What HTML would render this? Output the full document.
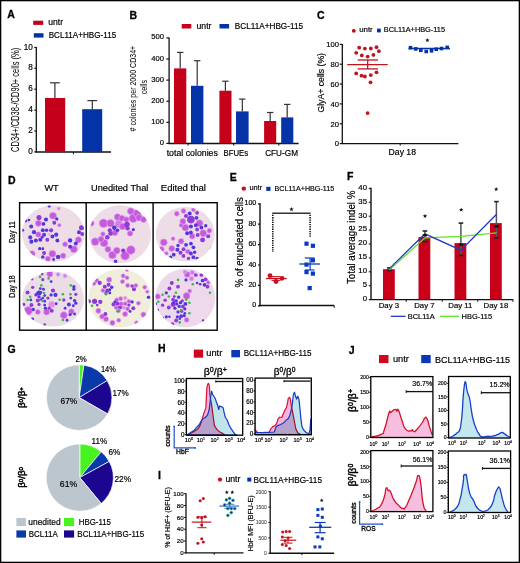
<!DOCTYPE html>
<html><head><meta charset="utf-8"><style>
html,body{margin:0;padding:0;background:#fff;overflow:hidden;}
svg{display:block;}
text{font-family:"Liberation Sans", sans-serif;}
</style></head><body>
<svg width="520" height="563" viewBox="0 0 520 563">
<rect x="0" y="0" width="520" height="563" fill="#fff"/>
<text x="7.20" y="17.80" font-size="10.5" stroke="#000" stroke-width="0.3" font-weight="bold" >A</text>
<rect x="33.20" y="20.70" width="10.00" height="4.20" fill="#c5001a" />
<text x="48.30" y="25.00" font-size="8.2" stroke="#000" stroke-width="0.18" textLength="14.8" lengthAdjust="spacingAndGlyphs" >untr</text>
<rect x="33.80" y="33.20" width="9.70" height="4.40" fill="#0433a8" />
<text x="48.70" y="38.10" font-size="8.2" stroke="#000" stroke-width="0.18" textLength="67.5" lengthAdjust="spacingAndGlyphs" >BCL11A+HBG-115</text>
<line x1="36.30" y1="47.00" x2="36.30" y2="152.60" stroke="#111" stroke-width="1.3" />
<line x1="34.30" y1="151.90" x2="36.30" y2="151.90" stroke="#111" stroke-width="1.1700000000000002" />
<text x="32.90" y="154.00" font-size="8.2" stroke="#000" stroke-width="0.18" text-anchor="end" >0</text>
<line x1="34.30" y1="131.00" x2="36.30" y2="131.00" stroke="#111" stroke-width="1.1700000000000002" />
<text x="32.90" y="133.10" font-size="8.2" stroke="#000" stroke-width="0.18" text-anchor="end" >2</text>
<line x1="34.30" y1="110.10" x2="36.30" y2="110.10" stroke="#111" stroke-width="1.1700000000000002" />
<text x="32.90" y="112.20" font-size="8.2" stroke="#000" stroke-width="0.18" text-anchor="end" >4</text>
<line x1="34.30" y1="89.20" x2="36.30" y2="89.20" stroke="#111" stroke-width="1.1700000000000002" />
<text x="32.90" y="91.30" font-size="8.2" stroke="#000" stroke-width="0.18" text-anchor="end" >6</text>
<line x1="34.30" y1="68.30" x2="36.30" y2="68.30" stroke="#111" stroke-width="1.1700000000000002" />
<text x="32.90" y="70.40" font-size="8.2" stroke="#000" stroke-width="0.18" text-anchor="end" >8</text>
<line x1="34.30" y1="47.40" x2="36.30" y2="47.40" stroke="#111" stroke-width="1.1700000000000002" />
<text x="32.90" y="49.50" font-size="8.2" stroke="#000" stroke-width="0.18" text-anchor="end" >10</text>
<line x1="35.70" y1="152.10" x2="111.00" y2="152.10" stroke="#111" stroke-width="1.5" />
<line x1="73.40" y1="152.10" x2="73.40" y2="154.20" stroke="#111" stroke-width="1" />
<rect x="45.00" y="98.00" width="20.20" height="54.10" fill="#c5001a" />
<rect x="82.20" y="109.20" width="20.00" height="42.90" fill="#0433a8" />
<line x1="54.90" y1="82.80" x2="54.90" y2="98.00" stroke="#333" stroke-width="1.2" />
<line x1="50.00" y1="82.80" x2="59.80" y2="82.80" stroke="#333" stroke-width="1.2" />
<line x1="92.30" y1="100.60" x2="92.30" y2="109.20" stroke="#333" stroke-width="1.2" />
<line x1="87.40" y1="100.60" x2="97.20" y2="100.60" stroke="#333" stroke-width="1.2" />
<text transform="translate(19.40,99.90) rotate(-90)" font-size="10.6" stroke="#000" stroke-width="0.02" text-anchor="middle" textLength="104.2" lengthAdjust="spacingAndGlyphs" >CD34+/CD38-/CD90+ cells (%)</text>
<text x="129.60" y="18.80" font-size="10.5" stroke="#000" stroke-width="0.3" font-weight="bold" >B</text>
<rect x="181.70" y="24.00" width="9.60" height="4.50" fill="#c5001a" />
<text x="196.50" y="28.50" font-size="8.2" stroke="#000" stroke-width="0.18" textLength="15" lengthAdjust="spacingAndGlyphs" >untr</text>
<rect x="219.50" y="24.00" width="9.60" height="4.50" fill="#0433a8" />
<text x="234.80" y="28.50" font-size="8.2" stroke="#000" stroke-width="0.18" textLength="68.2" lengthAdjust="spacingAndGlyphs" >BCL11A+HBG-115</text>
<line x1="169.10" y1="37.50" x2="169.10" y2="143.80" stroke="#111" stroke-width="1.3" />
<line x1="166.30" y1="143.40" x2="169.10" y2="143.40" stroke="#111" stroke-width="1.1700000000000002" />
<text x="164.00" y="144.90" font-size="7.6" stroke="#000" stroke-width="0.18" text-anchor="end" >0</text>
<line x1="166.30" y1="122.30" x2="169.10" y2="122.30" stroke="#111" stroke-width="1.1700000000000002" />
<text x="164.00" y="123.80" font-size="7.6" stroke="#000" stroke-width="0.18" text-anchor="end" >100</text>
<line x1="166.30" y1="101.20" x2="169.10" y2="101.20" stroke="#111" stroke-width="1.1700000000000002" />
<text x="164.00" y="102.70" font-size="7.6" stroke="#000" stroke-width="0.18" text-anchor="end" >200</text>
<line x1="166.30" y1="80.10" x2="169.10" y2="80.10" stroke="#111" stroke-width="1.1700000000000002" />
<text x="164.00" y="81.60" font-size="7.6" stroke="#000" stroke-width="0.18" text-anchor="end" >300</text>
<line x1="166.30" y1="59.00" x2="169.10" y2="59.00" stroke="#111" stroke-width="1.1700000000000002" />
<text x="164.00" y="60.50" font-size="7.6" stroke="#000" stroke-width="0.18" text-anchor="end" >400</text>
<line x1="166.30" y1="37.90" x2="169.10" y2="37.90" stroke="#111" stroke-width="1.1700000000000002" />
<text x="164.00" y="39.40" font-size="7.6" stroke="#000" stroke-width="0.18" text-anchor="end" >500</text>
<line x1="168.50" y1="143.40" x2="298.60" y2="143.40" stroke="#111" stroke-width="1.5" />
<line x1="188.00" y1="143.40" x2="188.00" y2="145.60" stroke="#111" stroke-width="1" />
<line x1="233.70" y1="143.40" x2="233.70" y2="145.60" stroke="#111" stroke-width="1" />
<line x1="278.80" y1="143.40" x2="278.80" y2="145.60" stroke="#111" stroke-width="1" />
<rect x="174.00" y="68.40" width="12.30" height="75.00" fill="#c5001a" />
<line x1="180.20" y1="52.40" x2="180.20" y2="68.40" stroke="#333" stroke-width="1.2" />
<line x1="177.00" y1="52.40" x2="183.40" y2="52.40" stroke="#333" stroke-width="1.2" />
<rect x="191.00" y="85.80" width="12.40" height="57.60" fill="#0433a8" />
<line x1="197.20" y1="60.70" x2="197.20" y2="85.80" stroke="#333" stroke-width="1.2" />
<line x1="194.00" y1="60.70" x2="200.40" y2="60.70" stroke="#333" stroke-width="1.2" />
<rect x="219.40" y="90.70" width="12.10" height="52.70" fill="#c5001a" />
<line x1="225.40" y1="81.20" x2="225.40" y2="90.70" stroke="#333" stroke-width="1.2" />
<line x1="222.20" y1="81.20" x2="228.60" y2="81.20" stroke="#333" stroke-width="1.2" />
<rect x="236.00" y="111.40" width="12.60" height="32.00" fill="#0433a8" />
<line x1="242.30" y1="99.10" x2="242.30" y2="111.40" stroke="#333" stroke-width="1.2" />
<line x1="239.10" y1="99.10" x2="245.50" y2="99.10" stroke="#333" stroke-width="1.2" />
<rect x="264.10" y="121.00" width="12.10" height="22.40" fill="#c5001a" />
<line x1="270.20" y1="112.50" x2="270.20" y2="121.00" stroke="#333" stroke-width="1.2" />
<line x1="267.00" y1="112.50" x2="273.40" y2="112.50" stroke="#333" stroke-width="1.2" />
<rect x="281.20" y="117.40" width="12.10" height="26.00" fill="#0433a8" />
<line x1="287.20" y1="104.40" x2="287.20" y2="117.40" stroke="#333" stroke-width="1.2" />
<line x1="284.00" y1="104.40" x2="290.40" y2="104.40" stroke="#333" stroke-width="1.2" />
<text x="192.30" y="156.20" font-size="8.2" stroke="#000" stroke-width="0.18" text-anchor="middle" textLength="51.2" lengthAdjust="spacingAndGlyphs" >total colonies</text>
<text x="235.90" y="156.20" font-size="8.2" stroke="#000" stroke-width="0.18" text-anchor="middle" textLength="24.6" lengthAdjust="spacingAndGlyphs" >BFUEs</text>
<text x="281.60" y="156.20" font-size="8.2" stroke="#000" stroke-width="0.18" text-anchor="middle" textLength="32.8" lengthAdjust="spacingAndGlyphs" >CFU-GM</text>
<text transform="translate(135.70,88.60) rotate(-90)" font-size="8.8" stroke="#000" stroke-width="0.02" text-anchor="middle" textLength="85.6" lengthAdjust="spacingAndGlyphs" ># colonies per 2000 CD34+</text>
<text transform="translate(146.60,87.10) rotate(-90)" font-size="9.0" stroke="#000" stroke-width="0.02" text-anchor="middle" textLength="14.2" lengthAdjust="spacingAndGlyphs" >cells</text>
<text x="317.00" y="18.80" font-size="10.5" stroke="#000" stroke-width="0.3" font-weight="bold" >C</text>
<circle cx="353.80" cy="30.80" r="1.90" fill="#c5001a" />
<text x="359.20" y="32.40" font-size="7.2" stroke="#000" stroke-width="0.18" textLength="13.5" lengthAdjust="spacingAndGlyphs" >untr</text>
<rect x="377.00" y="28.60" width="3.80" height="3.80" fill="#0433a8" />
<text x="383.80" y="32.40" font-size="7.2" stroke="#000" stroke-width="0.18" textLength="61.2" lengthAdjust="spacingAndGlyphs" >BCL11A+HBG-115</text>
<line x1="342.30" y1="44.00" x2="342.30" y2="143.90" stroke="#111" stroke-width="1.3" />
<line x1="339.70" y1="143.60" x2="342.30" y2="143.60" stroke="#111" stroke-width="1.1700000000000002" />
<text x="339.00" y="146.40" font-size="7.6" stroke="#000" stroke-width="0.18" text-anchor="end" >0</text>
<line x1="339.70" y1="123.75" x2="342.30" y2="123.75" stroke="#111" stroke-width="1.1700000000000002" />
<text x="339.00" y="126.55" font-size="7.6" stroke="#000" stroke-width="0.18" text-anchor="end" >20</text>
<line x1="339.70" y1="103.90" x2="342.30" y2="103.90" stroke="#111" stroke-width="1.1700000000000002" />
<text x="339.00" y="106.70" font-size="7.6" stroke="#000" stroke-width="0.18" text-anchor="end" >40</text>
<line x1="339.70" y1="84.05" x2="342.30" y2="84.05" stroke="#111" stroke-width="1.1700000000000002" />
<text x="339.00" y="86.85" font-size="7.6" stroke="#000" stroke-width="0.18" text-anchor="end" >60</text>
<line x1="339.70" y1="64.20" x2="342.30" y2="64.20" stroke="#111" stroke-width="1.1700000000000002" />
<text x="339.00" y="67.00" font-size="7.6" stroke="#000" stroke-width="0.18" text-anchor="end" >80</text>
<line x1="339.70" y1="44.35" x2="342.30" y2="44.35" stroke="#111" stroke-width="1.1700000000000002" />
<text x="339.00" y="47.15" font-size="7.6" stroke="#000" stroke-width="0.18" text-anchor="end" >100</text>
<line x1="341.70" y1="143.60" x2="458.40" y2="143.60" stroke="#111" stroke-width="1.4" />
<line x1="400.20" y1="143.60" x2="400.20" y2="145.60" stroke="#111" stroke-width="1" />
<text x="402.30" y="154.90" font-size="8.2" stroke="#000" stroke-width="0.18" text-anchor="middle" textLength="27.4" lengthAdjust="spacingAndGlyphs" >Day 18</text>
<text transform="translate(324.40,82.80) rotate(-90)" font-size="9.4" stroke="#000" stroke-width="0.18" text-anchor="middle" textLength="59.6" lengthAdjust="spacingAndGlyphs" >GlyA+ cells (%)</text>
<circle cx="359.20" cy="47.70" r="1.90" fill="#c0141e" />
<circle cx="364.90" cy="48.60" r="1.90" fill="#c0141e" />
<circle cx="370.80" cy="48.50" r="1.90" fill="#c0141e" />
<circle cx="376.50" cy="47.20" r="1.90" fill="#c0141e" />
<circle cx="356.20" cy="52.80" r="1.90" fill="#c0141e" />
<circle cx="361.80" cy="55.40" r="1.90" fill="#c0141e" />
<circle cx="367.70" cy="56.60" r="1.90" fill="#c0141e" />
<circle cx="373.40" cy="54.90" r="1.90" fill="#c0141e" />
<circle cx="378.90" cy="51.20" r="1.90" fill="#c0141e" />
<circle cx="356.20" cy="73.40" r="1.90" fill="#c0141e" />
<circle cx="361.50" cy="75.70" r="1.90" fill="#c0141e" />
<circle cx="364.90" cy="76.50" r="1.90" fill="#c0141e" />
<circle cx="370.80" cy="75.10" r="1.90" fill="#c0141e" />
<circle cx="376.50" cy="72.30" r="1.90" fill="#c0141e" />
<circle cx="370.50" cy="82.30" r="1.90" fill="#c0141e" />
<circle cx="367.60" cy="113.10" r="1.90" fill="#c0141e" />
<line x1="347.20" y1="64.60" x2="387.70" y2="64.60" stroke="#c0141e" stroke-width="1.3" />
<line x1="357.70" y1="60.00" x2="378.00" y2="60.00" stroke="#c0141e" stroke-width="1.3" />
<line x1="357.70" y1="68.90" x2="378.00" y2="68.90" stroke="#c0141e" stroke-width="1.3" />
<line x1="367.70" y1="60.00" x2="367.70" y2="68.90" stroke="#c0141e" stroke-width="1.3" />
<line x1="408.50" y1="48.50" x2="450.00" y2="48.50" stroke="#0433a8" stroke-width="1.3" />
<rect x="408.70" y="45.90" width="3.60" height="3.60" fill="#0433a8" />
<rect x="414.00" y="47.10" width="3.60" height="3.60" fill="#0433a8" />
<rect x="419.00" y="48.50" width="3.60" height="3.60" fill="#0433a8" />
<rect x="424.40" y="49.70" width="3.60" height="3.60" fill="#0433a8" />
<rect x="429.70" y="49.00" width="3.60" height="3.60" fill="#0433a8" />
<rect x="434.40" y="47.40" width="3.60" height="3.60" fill="#0433a8" />
<rect x="439.70" y="46.70" width="3.60" height="3.60" fill="#0433a8" />
<rect x="445.40" y="45.60" width="3.60" height="3.60" fill="#0433a8" />
<polygon points="427.40,37.90 427.99,39.39 429.59,39.49 428.35,40.51 428.75,42.06 427.40,41.20 426.05,42.06 426.45,40.51 425.21,39.49 426.81,39.39" fill="#111"/>
<text x="8.00" y="183.60" font-size="10.5" stroke="#000" stroke-width="0.3" font-weight="bold" >D</text>
<text x="51.60" y="190.80" font-size="8.6" stroke="#000" stroke-width="0.18" text-anchor="middle" textLength="14.4" lengthAdjust="spacingAndGlyphs" >WT</text>
<text x="119.70" y="191.00" font-size="8.6" stroke="#000" stroke-width="0.18" text-anchor="middle" textLength="57.4" lengthAdjust="spacingAndGlyphs" >Unedited Thal</text>
<text x="183.40" y="191.00" font-size="8.6" stroke="#000" stroke-width="0.18" text-anchor="middle" textLength="45.2" lengthAdjust="spacingAndGlyphs" >Edited thal</text>
<text transform="translate(14.60,232.20) rotate(-90)" font-size="8.6" stroke="#000" stroke-width="0.18" text-anchor="middle" textLength="21.8" lengthAdjust="spacingAndGlyphs" >Day 11</text>
<text transform="translate(14.60,286.50) rotate(-90)" font-size="8.6" stroke="#000" stroke-width="0.18" text-anchor="middle" textLength="22.4" lengthAdjust="spacingAndGlyphs" >Day 18</text>
<defs><filter id="cb" x="-50%" y="-50%" width="200%" height="200%"><feGaussianBlur stdDeviation="0.4"/></filter><filter id="cb2" x="-20%" y="-20%" width="140%" height="140%"><feGaussianBlur stdDeviation="0.6"/></filter></defs>
<clipPath id="cc0"><ellipse cx="53.3" cy="233.6" rx="31.3" ry="28.3"/></clipPath>
<ellipse cx="53.3" cy="233.6" rx="31.3" ry="28.3" fill="#eedde7" filter="url(#cb2)"/>
<g clip-path="url(#cc0)"><g filter="url(#cb)"><circle cx="53.0" cy="215.7" r="3.52" fill="#c55ade" stroke="#dea4ee" stroke-width="0.7"/><circle cx="73.9" cy="249.3" r="3.52" fill="#c55ade" stroke="#dea4ee" stroke-width="0.7"/><circle cx="52.4" cy="253.8" r="3.52" fill="#c55ade" stroke="#dea4ee" stroke-width="0.7"/><circle cx="38.4" cy="223.3" r="3.08" fill="#c55ade" stroke="#dea4ee" stroke-width="0.7"/><circle cx="78.4" cy="239.8" r="3.08" fill="#c55ade" stroke="#dea4ee" stroke-width="0.7"/><circle cx="32.1" cy="253.8" r="3.08" fill="#c55ade" stroke="#dea4ee" stroke-width="0.7"/><circle cx="38.4" cy="234.5" r="2.75" fill="#c55ade" stroke="#dea4ee" stroke-width="0.7"/><circle cx="47.9" cy="258.8" r="2.75" fill="#c55ade" stroke="#dea4ee" stroke-width="0.7"/><circle cx="63.1" cy="255.7" r="2.75" fill="#c55ade" stroke="#dea4ee" stroke-width="0.7"/><circle cx="39.0" cy="217.6" r="2.53" fill="#8e3ada"/><circle cx="81.5" cy="227.7" r="2.53" fill="#8e3ada"/><circle cx="65.1" cy="244.2" r="2.53" fill="#c55ade" stroke="#dea4ee" stroke-width="0.7"/><circle cx="70.1" cy="240.4" r="2.20" fill="#5636de"/><circle cx="58.1" cy="256.9" r="2.20" fill="#5636de"/><circle cx="46.0" cy="219.5" r="2.09" fill="#5636de"/><circle cx="34.0" cy="232.2" r="2.09" fill="#5636de"/><circle cx="51.1" cy="230.3" r="2.09" fill="#8e3ada"/><circle cx="56.2" cy="234.7" r="2.09" fill="#5636de"/><circle cx="30.2" cy="237.3" r="2.09" fill="#5636de"/><circle cx="31.4" cy="241.7" r="2.09" fill="#5636de"/><circle cx="31.2" cy="226.5" r="1.98" fill="#5636de"/><circle cx="42.8" cy="230.3" r="1.98" fill="#5636de"/><circle cx="44.1" cy="234.7" r="1.98" fill="#5636de"/><circle cx="52.4" cy="236.6" r="1.98" fill="#5636de"/><circle cx="35.9" cy="240.4" r="1.98" fill="#5636de"/><circle cx="40.3" cy="239.8" r="1.98" fill="#5636de"/><circle cx="47.3" cy="239.8" r="1.98" fill="#8e3ada"/><circle cx="57.4" cy="240.4" r="1.98" fill="#5636de"/><circle cx="54.3" cy="222.7" r="1.98" fill="#8e3ada"/><circle cx="79.0" cy="232.2" r="1.98" fill="#5636de"/><circle cx="82.2" cy="234.1" r="1.98" fill="#8e3ada"/><circle cx="75.8" cy="243.6" r="1.98" fill="#5636de"/><circle cx="70.1" cy="246.8" r="1.98" fill="#5636de"/><circle cx="44.1" cy="253.1" r="1.98" fill="#8e3ada"/><circle cx="43.5" cy="223.9" r="1.87" fill="#5636de"/><circle cx="46.6" cy="230.3" r="1.76" fill="#5636de"/><circle cx="59.3" cy="225.2" r="1.76" fill="#c55ade" stroke="#dea4ee" stroke-width="0.7"/><circle cx="42.8" cy="256.9" r="1.76" fill="#5636de"/><circle cx="25.7" cy="220.8" r="1.65" fill="#5636de"/><circle cx="56.8" cy="218.9" r="1.65" fill="#5636de"/><circle cx="58.7" cy="208.7" r="1.65" fill="#d080e4" stroke="#e8bcf0" stroke-width="0.7"/><circle cx="39.7" cy="248.7" r="1.65" fill="#5636de"/><circle cx="28.9" cy="220.1" r="1.43" fill="#5636de"/><circle cx="22.8" cy="230.3" r="1.43" fill="#5636de"/><circle cx="42.2" cy="237.3" r="1.43" fill="#5636de"/><circle cx="49.2" cy="206.2" r="1.43" fill="#5636de"/><circle cx="42.8" cy="248.7" r="1.43" fill="#5636de"/><circle cx="53.6" cy="259.5" r="1.43" fill="#5636de"/><circle cx="49.2" cy="234.7" r="1.10" fill="#e090e2" stroke="#f0c0f0" stroke-width="0.7"/></g></g>
<clipPath id="cc1"><ellipse cx="120" cy="234.2" rx="31" ry="29"/></clipPath>
<ellipse cx="120" cy="234.2" rx="31" ry="29" fill="#eedde7" filter="url(#cb2)"/>
<g clip-path="url(#cc1)"><g filter="url(#cb)"><circle cx="103.5" cy="223.3" r="4.32" fill="#c55ade" stroke="#dea4ee" stroke-width="0.7"/><circle cx="133.3" cy="218.2" r="4.32" fill="#c55ade" stroke="#dea4ee" stroke-width="0.7"/><circle cx="125.1" cy="255.7" r="4.32" fill="#c55ade" stroke="#dea4ee" stroke-width="0.7"/><circle cx="130.8" cy="250.0" r="4.32" fill="#c55ade" stroke="#dea4ee" stroke-width="0.7"/><circle cx="110.5" cy="223.3" r="3.84" fill="#c55ade" stroke="#dea4ee" stroke-width="0.7"/><circle cx="118.7" cy="223.9" r="3.84" fill="#d080e4" stroke="#e8bcf0" stroke-width="0.7"/><circle cx="137.1" cy="213.2" r="3.84" fill="#c55ade" stroke="#dea4ee" stroke-width="0.7"/><circle cx="95.2" cy="241.7" r="3.84" fill="#c55ade" stroke="#dea4ee" stroke-width="0.7"/><circle cx="104.1" cy="243.0" r="3.84" fill="#c55ade" stroke="#dea4ee" stroke-width="0.7"/><circle cx="112.4" cy="255.0" r="3.84" fill="#c55ade" stroke="#dea4ee" stroke-width="0.7"/><circle cx="117.5" cy="217.0" r="3.36" fill="#c55ade" stroke="#dea4ee" stroke-width="0.7"/><circle cx="122.5" cy="226.5" r="3.36" fill="#c55ade" stroke="#dea4ee" stroke-width="0.7"/><circle cx="130.8" cy="211.2" r="3.36" fill="#c55ade" stroke="#dea4ee" stroke-width="0.7"/><circle cx="139.0" cy="217.6" r="3.36" fill="#c55ade" stroke="#dea4ee" stroke-width="0.7"/><circle cx="116.8" cy="250.6" r="3.36" fill="#c55ade" stroke="#dea4ee" stroke-width="0.7"/><circle cx="121.9" cy="218.2" r="3.00" fill="#c55ade" stroke="#dea4ee" stroke-width="0.7"/><circle cx="114.9" cy="232.8" r="3.00" fill="#c55ade" stroke="#dea4ee" stroke-width="0.7"/><circle cx="143.5" cy="219.5" r="3.00" fill="#c55ade" stroke="#dea4ee" stroke-width="0.7"/><circle cx="101.0" cy="239.2" r="3.00" fill="#c55ade" stroke="#dea4ee" stroke-width="0.7"/><circle cx="107.9" cy="249.3" r="3.00" fill="#c55ade" stroke="#dea4ee" stroke-width="0.7"/><circle cx="91.4" cy="223.3" r="2.76" fill="#c55ade" stroke="#dea4ee" stroke-width="0.7"/><circle cx="126.3" cy="219.5" r="2.76" fill="#c55ade" stroke="#dea4ee" stroke-width="0.7"/><circle cx="127.0" cy="224.6" r="2.76" fill="#8e3ada"/><circle cx="130.1" cy="233.5" r="2.76" fill="#c55ade" stroke="#dea4ee" stroke-width="0.7"/><circle cx="114.3" cy="227.7" r="2.28" fill="#5636de"/><circle cx="110.5" cy="233.5" r="2.28" fill="#8e3ada"/><circle cx="102.9" cy="234.1" r="2.28" fill="#c55ade" stroke="#dea4ee" stroke-width="0.7"/><circle cx="107.3" cy="237.3" r="2.28" fill="#8e3ada"/><circle cx="109.8" cy="230.3" r="2.16" fill="#8e3ada"/><circle cx="127.6" cy="228.4" r="2.16" fill="#8e3ada"/><circle cx="123.2" cy="250.6" r="2.16" fill="#8e3ada"/><circle cx="117.5" cy="230.3" r="1.80" fill="#5636de"/><circle cx="115.6" cy="261.4" r="1.80" fill="#5636de"/><circle cx="133.3" cy="229.6" r="1.56" fill="#5636de"/></g></g>
<clipPath id="cc2"><ellipse cx="185.2" cy="234.3" rx="29.4" ry="27.3"/></clipPath>
<ellipse cx="185.2" cy="234.3" rx="29.4" ry="27.3" fill="#eddde6" filter="url(#cb2)"/>
<g clip-path="url(#cc2)"><g filter="url(#cb)"><circle cx="190.9" cy="219.6" r="3.81" fill="#8e3ada"/><circle cx="199.5" cy="223.3" r="3.47" fill="#c55ade" stroke="#dea4ee" stroke-width="0.7"/><circle cx="185.4" cy="227.6" r="3.47" fill="#c55ade" stroke="#dea4ee" stroke-width="0.7"/><circle cx="203.2" cy="233.2" r="3.47" fill="#c55ade" stroke="#dea4ee" stroke-width="0.7"/><circle cx="163.8" cy="242.4" r="3.47" fill="#c55ade" stroke="#dea4ee" stroke-width="0.7"/><circle cx="182.9" cy="221.5" r="3.02" fill="#c55ade" stroke="#dea4ee" stroke-width="0.7"/><circle cx="171.8" cy="248.5" r="3.02" fill="#c55ade" stroke="#dea4ee" stroke-width="0.7"/><circle cx="192.2" cy="236.2" r="2.80" fill="#c55ade" stroke="#dea4ee" stroke-width="0.7"/><circle cx="181.1" cy="241.2" r="2.80" fill="#c55ade" stroke="#dea4ee" stroke-width="0.7"/><circle cx="161.4" cy="249.2" r="2.80" fill="#c55ade" stroke="#dea4ee" stroke-width="0.7"/><circle cx="176.8" cy="213.8" r="2.46" fill="#c55ade" stroke="#dea4ee" stroke-width="0.7"/><circle cx="183.5" cy="211.0" r="2.46" fill="#c55ade" stroke="#dea4ee" stroke-width="0.7"/><circle cx="209.4" cy="230.7" r="2.46" fill="#c55ade" stroke="#dea4ee" stroke-width="0.7"/><circle cx="202.6" cy="239.9" r="2.46" fill="#8e3ada"/><circle cx="187.8" cy="251.6" r="2.46" fill="#c55ade" stroke="#dea4ee" stroke-width="0.7"/><circle cx="189.7" cy="213.5" r="2.02" fill="#5636de"/><circle cx="186.0" cy="215.9" r="2.02" fill="#8e3ada"/><circle cx="193.4" cy="209.8" r="2.02" fill="#c55ade" stroke="#dea4ee" stroke-width="0.7"/><circle cx="190.9" cy="226.4" r="2.02" fill="#5636de"/><circle cx="181.1" cy="225.2" r="2.02" fill="#c55ade" stroke="#dea4ee" stroke-width="0.7"/><circle cx="208.2" cy="236.2" r="2.02" fill="#8e3ada"/><circle cx="187.2" cy="233.2" r="2.02" fill="#5636de"/><circle cx="177.4" cy="249.8" r="2.02" fill="#5636de"/><circle cx="180.5" cy="252.8" r="2.02" fill="#8e3ada"/><circle cx="197.1" cy="212.8" r="1.90" fill="#8e3ada"/><circle cx="196.5" cy="217.8" r="1.90" fill="#5636de"/><circle cx="195.8" cy="225.2" r="1.90" fill="#5636de"/><circle cx="201.4" cy="227.6" r="1.90" fill="#5636de"/><circle cx="197.1" cy="229.5" r="1.90" fill="#8e3ada"/><circle cx="197.7" cy="235.0" r="1.90" fill="#8e3ada"/><circle cx="190.9" cy="232.5" r="1.90" fill="#5636de"/><circle cx="173.1" cy="238.7" r="1.90" fill="#c55ade" stroke="#dea4ee" stroke-width="0.7"/><circle cx="186.0" cy="244.8" r="1.90" fill="#5636de"/><circle cx="190.9" cy="243.6" r="1.90" fill="#5636de"/><circle cx="193.4" cy="247.3" r="1.90" fill="#5636de"/><circle cx="183.5" cy="249.2" r="1.90" fill="#8e3ada"/><circle cx="190.9" cy="253.5" r="1.90" fill="#5636de"/><circle cx="173.7" cy="254.7" r="1.90" fill="#5636de"/><circle cx="183.5" cy="255.9" r="1.90" fill="#8e3ada"/><circle cx="193.4" cy="257.2" r="1.90" fill="#5636de"/><circle cx="166.3" cy="253.5" r="1.90" fill="#c55ade" stroke="#dea4ee" stroke-width="0.7"/><circle cx="205.7" cy="225.8" r="1.68" fill="#5636de"/><circle cx="194.6" cy="252.2" r="1.68" fill="#5636de"/><circle cx="170.6" cy="257.2" r="1.68" fill="#5636de"/><circle cx="197.1" cy="258.4" r="1.68" fill="#5636de"/><circle cx="188.5" cy="258.4" r="1.68" fill="#8e3ada"/><circle cx="178.0" cy="245.5" r="1.68" fill="#5636de"/><circle cx="211.2" cy="248.5" r="1.34" fill="#c55ade" stroke="#dea4ee" stroke-width="0.7"/></g></g>
<clipPath id="cc3"><ellipse cx="53" cy="299" rx="31" ry="27.6"/></clipPath>
<ellipse cx="53" cy="299" rx="31" ry="27.6" fill="#ebdde6" filter="url(#cb2)"/>
<g clip-path="url(#cc3)"><g filter="url(#cb)"><circle cx="28.2" cy="310.8" r="4.18" fill="#c55ade" stroke="#dea4ee" stroke-width="0.7"/><circle cx="51.7" cy="304.4" r="3.52" fill="#e090e2" stroke="#f0c0f0" stroke-width="0.7"/><circle cx="63.8" cy="315.2" r="3.52" fill="#c55ade" stroke="#dea4ee" stroke-width="0.7"/><circle cx="49.8" cy="274.0" r="3.08" fill="#c55ade" stroke="#dea4ee" stroke-width="0.7"/><circle cx="46.6" cy="312.0" r="3.08" fill="#c55ade" stroke="#dea4ee" stroke-width="0.7"/><circle cx="71.4" cy="311.4" r="2.75" fill="#c55ade" stroke="#dea4ee" stroke-width="0.7"/><circle cx="39.0" cy="293.0" r="2.53" fill="#5636de"/><circle cx="37.8" cy="312.0" r="2.53" fill="#c55ade" stroke="#dea4ee" stroke-width="0.7"/><circle cx="65.0" cy="275.9" r="2.09" fill="#d080e4" stroke="#e8bcf0" stroke-width="0.7"/><circle cx="53.0" cy="290.5" r="2.09" fill="#8e3ada"/><circle cx="55.5" cy="294.9" r="2.09" fill="#5636de"/><circle cx="58.1" cy="274.6" r="1.98" fill="#d080e4" stroke="#e8bcf0" stroke-width="0.7"/><circle cx="27.6" cy="292.4" r="1.98" fill="#8e3ada"/><circle cx="37.8" cy="300.6" r="1.98" fill="#8e3ada"/><circle cx="31.4" cy="305.1" r="1.98" fill="#8e3ada"/><circle cx="51.7" cy="310.8" r="1.98" fill="#8e3ada"/><circle cx="68.9" cy="304.4" r="1.98" fill="#5636de"/><circle cx="42.8" cy="279.7" r="1.65" fill="#8e3ada"/><circle cx="32.7" cy="287.3" r="1.65" fill="#8e3ada"/><circle cx="35.9" cy="294.9" r="1.65" fill="#8e3ada"/><circle cx="39.0" cy="296.8" r="1.65" fill="#5636de"/><circle cx="51.1" cy="294.9" r="1.65" fill="#5636de"/><circle cx="47.9" cy="298.1" r="1.65" fill="#8e3ada"/><circle cx="23.8" cy="304.4" r="1.65" fill="#8e3ada"/><circle cx="39.0" cy="304.4" r="1.65" fill="#8e3ada"/><circle cx="45.4" cy="308.2" r="1.65" fill="#5636de"/><circle cx="49.2" cy="308.2" r="1.65" fill="#8e3ada"/><circle cx="33.3" cy="309.5" r="1.65" fill="#5636de"/><circle cx="75.8" cy="303.2" r="1.65" fill="#5636de"/><circle cx="74.6" cy="300.6" r="1.65" fill="#5636de"/><circle cx="75.8" cy="294.3" r="1.65" fill="#8e3ada"/><circle cx="63.8" cy="300.0" r="1.65" fill="#8e3ada"/><circle cx="73.9" cy="286.7" r="1.65" fill="#5636de"/><circle cx="73.9" cy="289.2" r="1.65" fill="#5636de"/><circle cx="70.1" cy="314.6" r="1.65" fill="#5636de"/><circle cx="42.2" cy="274.0" r="1.43" fill="#8e3ada"/><circle cx="32.1" cy="279.1" r="1.43" fill="#8e3ada"/><circle cx="51.1" cy="281.6" r="1.43" fill="#5636de"/><circle cx="40.3" cy="288.6" r="1.43" fill="#5636de"/><circle cx="43.5" cy="289.2" r="1.43" fill="#5636de"/><circle cx="44.7" cy="295.6" r="1.43" fill="#5636de"/><circle cx="42.8" cy="298.1" r="1.43" fill="#5636de"/><circle cx="30.8" cy="300.0" r="1.43" fill="#5636de"/><circle cx="44.7" cy="305.1" r="1.43" fill="#5636de"/><circle cx="56.2" cy="303.8" r="1.43" fill="#5636de"/><circle cx="65.1" cy="308.2" r="1.43" fill="#5636de"/><circle cx="73.3" cy="305.7" r="1.43" fill="#5636de"/><circle cx="70.8" cy="298.1" r="1.43" fill="#5636de"/><circle cx="74.6" cy="314.0" r="1.43" fill="#5636de"/><circle cx="32.7" cy="319.0" r="1.43" fill="#5636de"/><circle cx="67.0" cy="320.3" r="1.43" fill="#5636de"/><circle cx="44.7" cy="324.7" r="1.43" fill="#8e3ada"/><circle cx="36.5" cy="294.3" r="1.43" fill="#5636de"/><circle cx="40.9" cy="292.4" r="1.43" fill="#5636de"/><circle cx="40.9" cy="299.4" r="1.43" fill="#8e3ada"/><circle cx="44.7" cy="301.3" r="1.43" fill="#5636de"/><circle cx="40.1" cy="276.9" r="1.3" fill="#2fbf3a"/><circle cx="48.6" cy="278.4" r="1.3" fill="#2fbf3a"/><circle cx="41.3" cy="285.4" r="1.3" fill="#2fbf3a"/><circle cx="44.1" cy="293.0" r="1.3" fill="#2fbf3a"/><circle cx="30.2" cy="296.8" r="1.3" fill="#2fbf3a"/><circle cx="27.6" cy="300.0" r="1.3" fill="#2fbf3a"/><circle cx="42.6" cy="301.0" r="1.3" fill="#2fbf3a"/><circle cx="59.6" cy="299.7" r="1.3" fill="#2fbf3a"/><circle cx="62.9" cy="294.3" r="1.3" fill="#2fbf3a"/><circle cx="70.5" cy="294.3" r="1.3" fill="#2fbf3a"/><circle cx="70.8" cy="285.4" r="1.3" fill="#2fbf3a"/><circle cx="62.9" cy="320.0" r="1.3" fill="#2fbf3a"/></g></g>
<clipPath id="cc4"><ellipse cx="119.9" cy="298.2" rx="31.5" ry="29.3"/></clipPath>
<ellipse cx="119.9" cy="298.2" rx="31.5" ry="29.3" fill="#f0eedb" filter="url(#cb2)"/>
<g clip-path="url(#cc4)"><g filter="url(#cb)"><circle cx="109.2" cy="279.7" r="2.58" fill="#c55ade" stroke="#dea4ee" stroke-width="0.7"/><circle cx="94.6" cy="301.3" r="2.58" fill="#8e3ada"/><circle cx="98.4" cy="310.8" r="2.58" fill="#c55ade" stroke="#dea4ee" stroke-width="0.7"/><circle cx="102.2" cy="316.5" r="2.58" fill="#c55ade" stroke="#dea4ee" stroke-width="0.7"/><circle cx="106.0" cy="319.0" r="2.58" fill="#c55ade" stroke="#dea4ee" stroke-width="0.7"/><circle cx="112.4" cy="322.8" r="2.58" fill="#c55ade" stroke="#dea4ee" stroke-width="0.7"/><circle cx="125.1" cy="314.0" r="2.58" fill="#c55ade" stroke="#dea4ee" stroke-width="0.7"/><circle cx="143.5" cy="314.6" r="2.58" fill="#c55ade" stroke="#dea4ee" stroke-width="0.7"/><circle cx="96.5" cy="280.3" r="2.13" fill="#c55ade" stroke="#dea4ee" stroke-width="0.7"/><circle cx="99.7" cy="282.9" r="2.13" fill="#8e3ada"/><circle cx="123.2" cy="275.9" r="2.13" fill="#c55ade" stroke="#dea4ee" stroke-width="0.7"/><circle cx="122.5" cy="281.6" r="2.13" fill="#c55ade" stroke="#dea4ee" stroke-width="0.7"/><circle cx="127.6" cy="285.4" r="2.13" fill="#c55ade" stroke="#dea4ee" stroke-width="0.7"/><circle cx="88.9" cy="301.3" r="2.13" fill="#8e3ada"/><circle cx="100.3" cy="301.9" r="2.13" fill="#8e3ada"/><circle cx="113.6" cy="304.4" r="2.13" fill="#8e3ada"/><circle cx="116.8" cy="300.0" r="2.13" fill="#c55ade" stroke="#dea4ee" stroke-width="0.7"/><circle cx="120.6" cy="298.7" r="2.13" fill="#c55ade" stroke="#dea4ee" stroke-width="0.7"/><circle cx="125.1" cy="298.1" r="2.13" fill="#e090e2" stroke="#f0c0f0" stroke-width="0.7"/><circle cx="121.3" cy="303.8" r="2.13" fill="#c55ade" stroke="#dea4ee" stroke-width="0.7"/><circle cx="125.1" cy="303.8" r="2.13" fill="#c55ade" stroke="#dea4ee" stroke-width="0.7"/><circle cx="123.8" cy="307.6" r="2.13" fill="#e090e2" stroke="#f0c0f0" stroke-width="0.7"/><circle cx="127.6" cy="308.9" r="2.13" fill="#c55ade" stroke="#dea4ee" stroke-width="0.7"/><circle cx="94.0" cy="283.5" r="2.02" fill="#c55ade" stroke="#dea4ee" stroke-width="0.7"/><circle cx="108.6" cy="284.8" r="2.02" fill="#8e3ada"/><circle cx="104.8" cy="286.7" r="2.02" fill="#8e3ada"/><circle cx="102.9" cy="290.5" r="2.02" fill="#c55ade" stroke="#dea4ee" stroke-width="0.7"/><circle cx="107.3" cy="290.5" r="2.02" fill="#8e3ada"/><circle cx="127.0" cy="277.8" r="2.02" fill="#c55ade" stroke="#dea4ee" stroke-width="0.7"/><circle cx="135.9" cy="285.4" r="2.02" fill="#c55ade" stroke="#dea4ee" stroke-width="0.7"/><circle cx="134.0" cy="289.2" r="2.02" fill="#8e3ada"/><circle cx="144.7" cy="287.3" r="2.02" fill="#c55ade" stroke="#dea4ee" stroke-width="0.7"/><circle cx="105.4" cy="314.0" r="2.02" fill="#8e3ada"/><circle cx="118.7" cy="320.3" r="2.02" fill="#c55ade" stroke="#dea4ee" stroke-width="0.7"/><circle cx="128.9" cy="301.3" r="2.02" fill="#c55ade" stroke="#dea4ee" stroke-width="0.7"/><circle cx="117.5" cy="303.8" r="2.02" fill="#8e3ada"/><circle cx="116.2" cy="307.6" r="2.02" fill="#c55ade" stroke="#dea4ee" stroke-width="0.7"/><circle cx="120.0" cy="307.6" r="2.02" fill="#8e3ada"/><circle cx="133.3" cy="308.2" r="2.02" fill="#8e3ada"/><circle cx="118.7" cy="310.8" r="2.02" fill="#c55ade" stroke="#dea4ee" stroke-width="0.7"/><circle cx="138.4" cy="303.2" r="2.02" fill="#c55ade" stroke="#dea4ee" stroke-width="0.7"/><circle cx="136.5" cy="322.8" r="2.02" fill="#c55ade" stroke="#dea4ee" stroke-width="0.7"/><circle cx="111.7" cy="287.3" r="1.68" fill="#5636de"/><circle cx="106.0" cy="293.0" r="1.68" fill="#8e3ada"/><circle cx="132.1" cy="286.0" r="1.68" fill="#8e3ada"/><circle cx="147.3" cy="291.7" r="1.68" fill="#c55ade" stroke="#dea4ee" stroke-width="0.7"/><circle cx="148.5" cy="297.2" r="1.68" fill="#5636de"/><circle cx="132.1" cy="301.9" r="1.68" fill="#5636de"/><circle cx="128.9" cy="305.1" r="1.68" fill="#8e3ada"/><circle cx="109.8" cy="289.8" r="1.46" fill="#5636de"/><circle cx="109.8" cy="293.0" r="1.46" fill="#5636de"/><circle cx="127.0" cy="270.2" r="1.46" fill="#c55ade" stroke="#dea4ee" stroke-width="0.7"/><circle cx="97.2" cy="305.1" r="1.46" fill="#8e3ada"/><circle cx="130.1" cy="311.4" r="1.46" fill="#5636de"/><circle cx="114.9" cy="301.9" r="1.46" fill="#5636de"/><circle cx="106.0" cy="294.3" r="1.3" fill="#2fbf3a"/><circle cx="92.1" cy="305.7" r="1.3" fill="#2fbf3a"/><circle cx="117.5" cy="311.2" r="1.3" fill="#2fbf3a"/></g></g>
<clipPath id="cc5"><ellipse cx="185.3" cy="298" rx="30" ry="29.3"/></clipPath>
<ellipse cx="185.3" cy="298" rx="30" ry="29.3" fill="#eed9ec" filter="url(#cb2)"/>
<g clip-path="url(#cc5)"><g filter="url(#cb)"><circle cx="186.6" cy="295.9" r="3.41" fill="#c55ade" stroke="#dea4ee" stroke-width="0.7"/><circle cx="187.2" cy="274.4" r="2.97" fill="#c55ade" stroke="#dea4ee" stroke-width="0.7"/><circle cx="157.7" cy="296.5" r="2.75" fill="#c55ade" stroke="#dea4ee" stroke-width="0.7"/><circle cx="192.2" cy="272.5" r="2.42" fill="#d080e4" stroke="#e8bcf0" stroke-width="0.7"/><circle cx="191.5" cy="278.7" r="2.42" fill="#d080e4" stroke="#e8bcf0" stroke-width="0.7"/><circle cx="173.1" cy="304.5" r="2.42" fill="#8e3ada"/><circle cx="186.6" cy="319.9" r="2.42" fill="#c55ade" stroke="#dea4ee" stroke-width="0.7"/><circle cx="184.8" cy="271.9" r="1.98" fill="#d080e4" stroke="#e8bcf0" stroke-width="0.7"/><circle cx="171.8" cy="283.0" r="1.98" fill="#8e3ada"/><circle cx="169.4" cy="288.5" r="1.98" fill="#8e3ada"/><circle cx="189.7" cy="291.0" r="1.98" fill="#c55ade" stroke="#dea4ee" stroke-width="0.7"/><circle cx="168.8" cy="307.6" r="1.98" fill="#8e3ada"/><circle cx="176.2" cy="320.5" r="1.98" fill="#8e3ada"/><circle cx="195.8" cy="275.0" r="1.87" fill="#8e3ada"/><circle cx="201.4" cy="275.0" r="1.87" fill="#8e3ada"/><circle cx="202.6" cy="280.5" r="1.87" fill="#5636de"/><circle cx="205.7" cy="279.3" r="1.87" fill="#8e3ada"/><circle cx="208.2" cy="282.4" r="1.87" fill="#c55ade" stroke="#dea4ee" stroke-width="0.7"/><circle cx="204.5" cy="284.8" r="1.87" fill="#5636de"/><circle cx="207.5" cy="286.7" r="1.87" fill="#8e3ada"/><circle cx="178.0" cy="286.7" r="1.87" fill="#8e3ada"/><circle cx="173.1" cy="299.6" r="1.87" fill="#8e3ada"/><circle cx="185.4" cy="303.9" r="1.87" fill="#5636de"/><circle cx="182.9" cy="306.4" r="1.87" fill="#8e3ada"/><circle cx="181.1" cy="316.2" r="1.87" fill="#5636de"/><circle cx="172.5" cy="324.2" r="1.87" fill="#8e3ada"/><circle cx="186.0" cy="279.9" r="1.65" fill="#5636de"/><circle cx="166.3" cy="292.8" r="1.65" fill="#5636de"/><circle cx="165.1" cy="300.2" r="1.65" fill="#8e3ada"/><circle cx="176.2" cy="300.8" r="1.65" fill="#5636de"/><circle cx="178.6" cy="297.2" r="1.65" fill="#5636de"/><circle cx="182.3" cy="300.8" r="1.65" fill="#8e3ada"/><circle cx="176.8" cy="303.9" r="1.65" fill="#5636de"/><circle cx="179.2" cy="306.4" r="1.65" fill="#5636de"/><circle cx="174.9" cy="308.2" r="1.65" fill="#5636de"/><circle cx="162.6" cy="305.2" r="1.65" fill="#8e3ada"/><circle cx="184.8" cy="308.8" r="1.65" fill="#5636de"/><circle cx="178.0" cy="311.9" r="1.65" fill="#5636de"/><circle cx="181.7" cy="311.3" r="1.65" fill="#8e3ada"/><circle cx="177.4" cy="316.8" r="1.65" fill="#5636de"/><circle cx="184.2" cy="315.6" r="1.65" fill="#5636de"/><circle cx="166.3" cy="316.8" r="1.65" fill="#5636de"/><circle cx="173.7" cy="302.7" r="1.65" fill="#5636de"/><circle cx="180.5" cy="302.7" r="1.65" fill="#5636de"/><circle cx="200.2" cy="284.2" r="1.32" fill="#5636de"/><circle cx="197.1" cy="283.0" r="1.32" fill="#5636de"/><circle cx="174.3" cy="296.5" r="1.32" fill="#5636de"/><circle cx="155.8" cy="303.9" r="1.32" fill="#5636de"/><circle cx="184.8" cy="313.2" r="1.32" fill="#5636de"/><circle cx="179.8" cy="318.7" r="1.32" fill="#5636de"/><circle cx="162.6" cy="318.1" r="1.32" fill="#5636de"/><circle cx="157.7" cy="310.1" r="1.32" fill="#5636de"/><circle cx="169.4" cy="316.8" r="1.32" fill="#5636de"/><circle cx="203.2" cy="320.5" r="1.32" fill="#5636de"/><circle cx="178.0" cy="279.9" r="1.3" fill="#2fbf3a"/><circle cx="192.8" cy="284.2" r="1.3" fill="#2fbf3a"/><circle cx="210.0" cy="292.8" r="1.3" fill="#2fbf3a"/><circle cx="162.6" cy="294.7" r="1.3" fill="#2fbf3a"/><circle cx="168.8" cy="296.5" r="1.3" fill="#2fbf3a"/><circle cx="175.9" cy="292.8" r="1.3" fill="#2fbf3a"/><circle cx="186.2" cy="299.6" r="1.3" fill="#2fbf3a"/><circle cx="189.4" cy="302.7" r="1.3" fill="#2fbf3a"/><circle cx="158.3" cy="301.7" r="1.3" fill="#2fbf3a"/><circle cx="181.1" cy="310.1" r="1.3" fill="#2fbf3a"/><circle cx="189.4" cy="313.2" r="1.3" fill="#2fbf3a"/><circle cx="179.8" cy="322.4" r="1.3" fill="#2fbf3a"/></g></g>
<rect x="19.6" y="202.7" width="197.6" height="127.5" fill="none" stroke="#000" stroke-width="1.4"/>
<line x1="86.20" y1="202.70" x2="86.20" y2="330.20" stroke="#000" stroke-width="1.4" />
<line x1="153.10" y1="202.70" x2="153.10" y2="330.20" stroke="#000" stroke-width="1.4" />
<line x1="19.60" y1="266.40" x2="217.20" y2="266.40" stroke="#000" stroke-width="1.4" />
<text x="229.80" y="181.10" font-size="10.5" stroke="#000" stroke-width="0.3" font-weight="bold" >E</text>
<circle cx="243.80" cy="188.60" r="2.20" fill="#c8101e" />
<text x="249.40" y="190.40" font-size="7.6" stroke="#000" stroke-width="0.18" textLength="12.7" lengthAdjust="spacingAndGlyphs" >untr</text>
<rect x="266.30" y="186.80" width="4.20" height="4.10" fill="#0433a8" />
<text x="274.60" y="190.50" font-size="7.6" stroke="#000" stroke-width="0.18" textLength="59.6" lengthAdjust="spacingAndGlyphs" >BCL11A+HBG-115</text>
<line x1="260.00" y1="203.30" x2="260.00" y2="306.20" stroke="#111" stroke-width="1.4" />
<line x1="258.00" y1="305.80" x2="260.00" y2="305.80" stroke="#111" stroke-width="1.2" />
<text x="256.30" y="307.40" font-size="7.1" stroke="#000" stroke-width="0.18" text-anchor="end" >0</text>
<line x1="258.00" y1="285.40" x2="260.00" y2="285.40" stroke="#111" stroke-width="1.2" />
<text x="256.30" y="287.00" font-size="7.1" stroke="#000" stroke-width="0.18" text-anchor="end" >20</text>
<line x1="258.00" y1="265.00" x2="260.00" y2="265.00" stroke="#111" stroke-width="1.2" />
<text x="256.30" y="266.60" font-size="7.1" stroke="#000" stroke-width="0.18" text-anchor="end" >40</text>
<line x1="258.00" y1="244.60" x2="260.00" y2="244.60" stroke="#111" stroke-width="1.2" />
<text x="256.30" y="246.20" font-size="7.1" stroke="#000" stroke-width="0.18" text-anchor="end" >60</text>
<line x1="258.00" y1="224.20" x2="260.00" y2="224.20" stroke="#111" stroke-width="1.2" />
<text x="256.30" y="225.80" font-size="7.1" stroke="#000" stroke-width="0.18" text-anchor="end" >80</text>
<line x1="258.00" y1="203.80" x2="260.00" y2="203.80" stroke="#111" stroke-width="1.2" />
<text x="256.30" y="205.40" font-size="7.1" stroke="#000" stroke-width="0.18" text-anchor="end" >100</text>
<line x1="259.30" y1="305.60" x2="334.20" y2="305.60" stroke="#111" stroke-width="1.5" />
<line x1="334.20" y1="305.60" x2="334.20" y2="307.80" stroke="#111" stroke-width="1.0" />
<text transform="translate(242.50,242.35) rotate(-90)" font-size="10.0" stroke="#000" stroke-width="0.18" text-anchor="middle" textLength="90.5" lengthAdjust="spacingAndGlyphs" >% of enucleated cells</text>
<line x1="272.20" y1="213.20" x2="310.60" y2="213.20" stroke="#333" stroke-width="1.6" />
<line x1="272.80" y1="214.80" x2="272.80" y2="252.00" stroke="#000" stroke-width="1.5" stroke-dasharray="1.3 1.0"/>
<line x1="310.10" y1="214.80" x2="310.10" y2="236.80" stroke="#000" stroke-width="1.5" stroke-dasharray="1.3 1.0"/>
<polygon points="291.50,207.00 292.09,208.49 293.69,208.59 292.45,209.61 292.85,211.16 291.50,210.30 290.15,211.16 290.55,209.61 289.31,208.59 290.91,208.49" fill="#111"/>
<line x1="266.00" y1="278.50" x2="286.70" y2="278.50" stroke="#c8101e" stroke-width="1.3" />
<line x1="271.50" y1="276.60" x2="280.50" y2="276.60" stroke="#c8101e" stroke-width="1.0" />
<line x1="271.50" y1="280.40" x2="280.50" y2="280.40" stroke="#c8101e" stroke-width="1.0" />
<circle cx="270.00" cy="275.70" r="2.40" fill="#c8101e" />
<circle cx="276.00" cy="281.50" r="2.40" fill="#c8101e" />
<circle cx="282.00" cy="278.30" r="2.40" fill="#c8101e" />
<rect x="304.40" y="241.60" width="4.20" height="4.20" fill="#0a3ac0" />
<rect x="310.80" y="243.70" width="4.20" height="4.20" fill="#0a3ac0" />
<rect x="310.80" y="258.20" width="4.20" height="4.20" fill="#0a3ac0" />
<rect x="304.40" y="262.50" width="4.20" height="4.20" fill="#0a3ac0" />
<rect x="304.40" y="270.00" width="4.20" height="4.20" fill="#0a3ac0" />
<rect x="310.80" y="271.50" width="4.20" height="4.20" fill="#0a3ac0" />
<rect x="307.60" y="286.00" width="4.20" height="4.20" fill="#0a3ac0" />
<line x1="299.40" y1="264.00" x2="320.10" y2="264.00" stroke="#0a3ac0" stroke-width="1.3" />
<line x1="304.80" y1="258.00" x2="314.40" y2="258.00" stroke="#0a3ac0" stroke-width="1.2" />
<line x1="304.80" y1="270.00" x2="314.40" y2="270.00" stroke="#0a3ac0" stroke-width="1.2" />
<line x1="310.10" y1="258.00" x2="310.10" y2="270.00" stroke="#0a3ac0" stroke-width="1.2" />
<text x="346.90" y="179.70" font-size="10.5" stroke="#000" stroke-width="0.3" font-weight="bold" >F</text>
<line x1="371.00" y1="187.80" x2="371.00" y2="300.00" stroke="#111" stroke-width="1.4" />
<line x1="368.80" y1="299.60" x2="371.00" y2="299.60" stroke="#111" stroke-width="1.1" />
<text x="367.00" y="300.90" font-size="7.8" stroke="#000" stroke-width="0.18" text-anchor="end" >0</text>
<line x1="368.80" y1="285.70" x2="371.00" y2="285.70" stroke="#111" stroke-width="1.1" />
<text x="367.00" y="287.00" font-size="7.8" stroke="#000" stroke-width="0.18" text-anchor="end" >5</text>
<line x1="368.80" y1="271.80" x2="371.00" y2="271.80" stroke="#111" stroke-width="1.1" />
<text x="367.00" y="273.10" font-size="7.8" stroke="#000" stroke-width="0.18" text-anchor="end" >10</text>
<line x1="368.80" y1="257.90" x2="371.00" y2="257.90" stroke="#111" stroke-width="1.1" />
<text x="367.00" y="259.20" font-size="7.8" stroke="#000" stroke-width="0.18" text-anchor="end" >15</text>
<line x1="368.80" y1="244.00" x2="371.00" y2="244.00" stroke="#111" stroke-width="1.1" />
<text x="367.00" y="245.30" font-size="7.8" stroke="#000" stroke-width="0.18" text-anchor="end" >20</text>
<line x1="368.80" y1="230.10" x2="371.00" y2="230.10" stroke="#111" stroke-width="1.1" />
<text x="367.00" y="231.40" font-size="7.8" stroke="#000" stroke-width="0.18" text-anchor="end" >25</text>
<line x1="368.80" y1="216.20" x2="371.00" y2="216.20" stroke="#111" stroke-width="1.1" />
<text x="367.00" y="217.50" font-size="7.8" stroke="#000" stroke-width="0.18" text-anchor="end" >30</text>
<line x1="368.80" y1="202.30" x2="371.00" y2="202.30" stroke="#111" stroke-width="1.1" />
<text x="367.00" y="203.60" font-size="7.8" stroke="#000" stroke-width="0.18" text-anchor="end" >35</text>
<line x1="368.80" y1="188.40" x2="371.00" y2="188.40" stroke="#111" stroke-width="1.1" />
<text x="367.00" y="189.70" font-size="7.8" stroke="#000" stroke-width="0.18" text-anchor="end" >40</text>
<line x1="370.40" y1="299.60" x2="513.20" y2="299.60" stroke="#111" stroke-width="1.4" />
<line x1="406.20" y1="299.60" x2="406.20" y2="301.80" stroke="#111" stroke-width="1.0" />
<line x1="442.20" y1="299.60" x2="442.20" y2="301.80" stroke="#111" stroke-width="1.0" />
<line x1="477.80" y1="299.60" x2="477.80" y2="301.80" stroke="#111" stroke-width="1.0" />
<line x1="513.00" y1="299.60" x2="513.00" y2="301.80" stroke="#111" stroke-width="1.0" />
<rect x="383.00" y="269.20" width="11.80" height="30.40" fill="#c8001a" />
<rect x="418.50" y="237.00" width="11.80" height="62.60" fill="#c8001a" />
<rect x="454.50" y="243.10" width="11.80" height="56.50" fill="#c8001a" />
<rect x="490.00" y="223.10" width="11.80" height="76.50" fill="#c8001a" />
<line x1="389.40" y1="267.90" x2="389.40" y2="270.50" stroke="#555" stroke-width="1.5" />
<line x1="387.10" y1="267.90" x2="391.70" y2="267.90" stroke="#222" stroke-width="1.6" />
<line x1="387.10" y1="270.50" x2="391.70" y2="270.50" stroke="#222" stroke-width="1.6" />
<line x1="424.90" y1="231.00" x2="424.90" y2="241.50" stroke="#555" stroke-width="1.5" />
<line x1="422.60" y1="231.00" x2="427.20" y2="231.00" stroke="#222" stroke-width="1.6" />
<line x1="422.60" y1="241.50" x2="427.20" y2="241.50" stroke="#222" stroke-width="1.6" />
<line x1="460.90" y1="223.10" x2="460.90" y2="255.40" stroke="#555" stroke-width="1.5" />
<line x1="458.60" y1="223.10" x2="463.20" y2="223.10" stroke="#222" stroke-width="1.6" />
<line x1="458.60" y1="255.40" x2="463.20" y2="255.40" stroke="#222" stroke-width="1.6" />
<line x1="496.40" y1="201.60" x2="496.40" y2="237.80" stroke="#555" stroke-width="1.5" />
<line x1="494.10" y1="201.60" x2="498.70" y2="201.60" stroke="#222" stroke-width="1.6" />
<line x1="494.10" y1="237.80" x2="498.70" y2="237.80" stroke="#222" stroke-width="1.6" />
<path d="M389.4,269.8 L424.9,237.8 L460.9,236.3 L496.6,232.9" fill="none" stroke="#5ce62a" stroke-width="1.3" />
<path d="M389.4,268.6 L424.9,233.8 L460.9,250.2 L496.6,214.3" fill="none" stroke="#1c3cc4" stroke-width="1.3" />
<rect x="422.80" y="234.20" width="4.20" height="2.20" fill="#111" />
<rect x="458.80" y="243.50" width="4.20" height="2.20" fill="#111" />
<rect x="494.50" y="225.30" width="4.20" height="2.20" fill="#111" />
<polygon points="425.00,213.80 425.59,215.29 427.19,215.39 425.95,216.41 426.35,217.96 425.00,217.10 423.65,217.96 424.05,216.41 422.81,215.39 424.41,215.29" fill="#111"/>
<polygon points="461.20,207.40 461.79,208.89 463.39,208.99 462.15,210.01 462.55,211.56 461.20,210.70 459.85,211.56 460.25,210.01 459.01,208.99 460.61,208.89" fill="#111"/>
<polygon points="496.20,186.90 496.79,188.39 498.39,188.49 497.15,189.51 497.55,191.06 496.20,190.20 494.85,191.06 495.25,189.51 494.01,188.49 495.61,188.39" fill="#111"/>
<text x="388.90" y="308.40" font-size="7.8" stroke="#000" stroke-width="0.18" text-anchor="middle" >Day 3</text>
<text x="424.40" y="308.40" font-size="7.8" stroke="#000" stroke-width="0.18" text-anchor="middle" >Day 7</text>
<text x="460.40" y="308.40" font-size="7.8" stroke="#000" stroke-width="0.18" text-anchor="middle" >Day 11</text>
<text x="495.90" y="308.40" font-size="7.8" stroke="#000" stroke-width="0.18" text-anchor="middle" >Day 18</text>
<line x1="390.80" y1="316.30" x2="405.50" y2="316.30" stroke="#1c3cc4" stroke-width="1.3" />
<text x="407.70" y="319.20" font-size="7.8" stroke="#000" stroke-width="0.18" textLength="27.1" lengthAdjust="spacingAndGlyphs" >BCL11A</text>
<line x1="440.00" y1="316.30" x2="459.00" y2="316.30" stroke="#5ce62a" stroke-width="1.3" />
<text x="461.60" y="319.20" font-size="7.8" stroke="#000" stroke-width="0.18" textLength="30.5" lengthAdjust="spacingAndGlyphs" >HBG-115</text>
<text transform="translate(355.30,237.30) rotate(-90)" font-size="10.0" stroke="#000" stroke-width="0.18" text-anchor="middle" textLength="93.5" lengthAdjust="spacingAndGlyphs" >Total average indel %</text>
<text x="7.50" y="352.50" font-size="10.5" stroke="#000" stroke-width="0.3" font-weight="bold" >G</text>
<path d="M79.2,397.6 L79.20,364.80 A32.8,32.8 0 0 1 83.92,365.14 Z" fill="#48f420" stroke="#fff" stroke-width="0.7" stroke-linejoin="round"/>
<path d="M79.2,397.6 L83.92,365.14 A32.8,32.8 0 0 1 107.22,380.55 Z" fill="#0a3aaa" stroke="#fff" stroke-width="0.7" stroke-linejoin="round"/>
<path d="M79.2,397.6 L107.22,380.55 A32.8,32.8 0 0 1 107.64,413.94 Z" fill="#1c0690" stroke="#fff" stroke-width="0.7" stroke-linejoin="round"/>
<path d="M79.2,397.6 L107.64,413.94 A32.8,32.8 0 1 1 79.20,364.80 Z" fill="#bcc6cf" stroke="#fff" stroke-width="0.7" stroke-linejoin="round"/>
<path d="M79.8,477.6 L79.80,444.00 A33.6,33.6 0 0 1 101.22,451.71 Z" fill="#48f420" stroke="#fff" stroke-width="0.7" stroke-linejoin="round"/>
<path d="M79.8,477.6 L101.22,451.71 A33.6,33.6 0 0 1 109.24,461.41 Z" fill="#0a3aaa" stroke="#fff" stroke-width="0.7" stroke-linejoin="round"/>
<path d="M79.8,477.6 L109.24,461.41 A33.6,33.6 0 0 1 101.22,503.49 Z" fill="#1c0690" stroke="#fff" stroke-width="0.7" stroke-linejoin="round"/>
<path d="M79.8,477.6 L101.22,503.49 A33.6,33.6 0 1 1 79.80,444.00 Z" fill="#bcc6cf" stroke="#fff" stroke-width="0.7" stroke-linejoin="round"/>
<text x="75.40" y="362.00" font-size="8.8" stroke="#000" stroke-width="0.18" textLength="11.3" lengthAdjust="spacingAndGlyphs" >2%</text>
<text x="101.00" y="371.90" font-size="8.8" stroke="#000" stroke-width="0.18" textLength="14.8" lengthAdjust="spacingAndGlyphs" >14%</text>
<text x="112.50" y="396.40" font-size="8.8" stroke="#000" stroke-width="0.18" textLength="16.2" lengthAdjust="spacingAndGlyphs" >17%</text>
<text x="60.60" y="403.70" font-size="8.8" stroke="#000" stroke-width="0.18" textLength="16.7" lengthAdjust="spacingAndGlyphs" >67%</text>
<text x="91.50" y="444.00" font-size="8.8" stroke="#000" stroke-width="0.18" textLength="15.7" lengthAdjust="spacingAndGlyphs" >11%</text>
<text x="108.50" y="454.80" font-size="8.8" stroke="#000" stroke-width="0.18" textLength="11.9" lengthAdjust="spacingAndGlyphs" >6%</text>
<text x="114.40" y="481.70" font-size="8.8" stroke="#000" stroke-width="0.18" textLength="16.7" lengthAdjust="spacingAndGlyphs" >22%</text>
<text x="59.80" y="486.50" font-size="8.8" stroke="#000" stroke-width="0.18" textLength="17.5" lengthAdjust="spacingAndGlyphs" >61%</text>
<text transform="translate(25.20,397.60) rotate(-90)" font-size="9.6" stroke="#000" stroke-width="0.5" text-anchor="middle" >β<tspan font-size="6.2" dy="-2.4">0</tspan><tspan dy="2.4">/β</tspan><tspan font-size="6.2" dy="-2.4">+</tspan></text>
<text transform="translate(25.20,477.40) rotate(-90)" font-size="9.6" stroke="#000" stroke-width="0.5" text-anchor="middle" >β<tspan font-size="6.2" dy="-2.4">0</tspan><tspan dy="2.4">/β</tspan><tspan font-size="6.2" dy="-2.4">0</tspan></text>
<rect x="16.40" y="518.00" width="9.60" height="8.10" fill="#bcc6cf" />
<text x="28.30" y="525.20" font-size="8.6" stroke="#000" stroke-width="0.18" textLength="32.3" lengthAdjust="spacingAndGlyphs" >unedited</text>
<rect x="64.00" y="518.00" width="10.10" height="8.10" fill="#48f420" />
<text x="78.70" y="525.20" font-size="8.6" stroke="#000" stroke-width="0.18" textLength="32.3" lengthAdjust="spacingAndGlyphs" >HBG-115</text>
<rect x="16.40" y="530.40" width="9.60" height="7.20" fill="#0a3aaa" />
<text x="28.80" y="537.30" font-size="8.6" stroke="#000" stroke-width="0.18" textLength="28.9" lengthAdjust="spacingAndGlyphs" >BCL11A</text>
<rect x="64.00" y="530.40" width="10.10" height="7.20" fill="#1c0690" />
<text x="77.30" y="537.30" font-size="8.6" stroke="#000" stroke-width="0.18" textLength="66.9" lengthAdjust="spacingAndGlyphs" >BCL11A+HBG-115</text>
<text x="157.90" y="351.90" font-size="10.5" stroke="#000" stroke-width="0.3" font-weight="bold" >H</text>
<rect x="193.80" y="349.60" width="9.30" height="8.10" fill="#d0061e" />
<text x="206.30" y="356.30" font-size="8.8" stroke="#000" stroke-width="0.18" textLength="16" lengthAdjust="spacingAndGlyphs" >untr</text>
<rect x="231.30" y="350.00" width="8.70" height="7.30" fill="#0c36b8" />
<text x="243.70" y="356.30" font-size="8.8" stroke="#000" stroke-width="0.18" textLength="67.8" lengthAdjust="spacingAndGlyphs" >BCL11A+HBG-115</text>
<text x="215.30" y="374.60" font-size="9.4" stroke="#000" stroke-width="0.3" text-anchor="middle" textLength="23.2" lengthAdjust="spacingAndGlyphs" >β<tspan font-size="6.3" dy="-2.9">0</tspan><tspan dy="2.9">/β</tspan><tspan font-size="6.3" dy="-2.9">+</tspan></text>
<text x="284.60" y="374.80" font-size="9.4" stroke="#000" stroke-width="0.3" text-anchor="middle" textLength="21.6" lengthAdjust="spacingAndGlyphs" >β<tspan font-size="6.3" dy="-2.9">0</tspan><tspan dy="2.9">/β</tspan><tspan font-size="6.3" dy="-2.9">0</tspan></text>
<path d="M186.7,434.8 L189.6,433.7 L194.2,431.4 L197.7,429.1 L200.0,425.6 L202.3,418.7 L204.0,412.9 L205.8,408.3 L206.3,399.1 L206.9,387.5 L207.8,384.1 L208.7,383.5 L209.5,387.5 L209.8,394.5 L211.0,401.4 L212.1,408.3 L213.3,417.5 L214.4,425.6 L216.7,429.1 L219.0,431.4 L221.9,433.1 L224.8,434.8 L224.8,435.2 L186.7,435.2 Z" fill="#f3b4de" stroke="none"/>
<path d="M186.7,434.8 L189.6,433.7 L194.2,431.4 L197.7,429.1 L200.0,425.6 L202.3,418.7 L204.0,412.9 L205.8,408.3 L206.3,399.1 L206.9,387.5 L207.8,384.1 L208.7,383.5 L209.5,387.5 L209.8,394.5 L211.0,401.4 L212.1,408.3 L213.3,417.5 L214.4,425.6 L216.7,429.1 L219.0,431.4 L221.9,433.1 L224.8,434.8 L224.8,435.2 L186.7,435.2" fill="none" stroke="#e0102e" stroke-width="1.2" stroke-linejoin="round"/>
<path d="M187.3,434.8 L190.8,432.5 L194.2,430.2 L197.1,426.8 L199.4,424.5 L201.2,421.0 L202.9,418.7 L205.2,417.5 L207.5,415.2 L209.2,409.5 L210.4,399.1 L211.5,391.0 L212.7,394.5 L213.8,396.2 L215.2,398.5 L216.4,402.0 L217.9,406.0 L218.7,409.5 L219.6,406.0 L221.3,406.6 L223.1,407.7 L224.2,412.9 L225.4,417.5 L227.1,419.8 L228.8,424.5 L230.6,427.9 L232.9,431.4 L235.2,434.3 L236.9,435.1 L236.9,435.2 L187.3,435.2 Z" fill="#bfe4ec" stroke="none" style="mix-blend-mode:multiply"/>
<path d="M187.3,434.8 L190.8,432.5 L194.2,430.2 L197.1,426.8 L199.4,424.5 L201.2,421.0 L202.9,418.7 L205.2,417.5 L207.5,415.2 L209.2,409.5 L210.4,399.1 L211.5,391.0 L212.7,394.5 L213.8,396.2 L215.2,398.5 L216.4,402.0 L217.9,406.0 L218.7,409.5 L219.6,406.0 L221.3,406.6 L223.1,407.7 L224.2,412.9 L225.4,417.5 L227.1,419.8 L228.8,424.5 L230.6,427.9 L232.9,431.4 L235.2,434.3 L236.9,435.1 L236.9,435.2 L187.3,435.2" fill="none" stroke="#1438c8" stroke-width="1.2" stroke-linejoin="round"/>
<rect x="186.4" y="378.5" width="56.3" height="56.7" fill="none" stroke="#000" stroke-width="1.3"/>
<line x1="215.80" y1="381.50" x2="241.90" y2="381.50" stroke="#111" stroke-width="1.3" />
<line x1="215.80" y1="380.30" x2="215.80" y2="382.70" stroke="#111" stroke-width="1.0" />
<line x1="184.60" y1="434.60" x2="186.40" y2="434.60" stroke="#000" stroke-width="0.8" />
<text x="184.50" y="436.80" font-size="6.3" stroke="#000" stroke-width="0.18" text-anchor="end" >0</text>
<line x1="184.60" y1="423.85" x2="186.40" y2="423.85" stroke="#000" stroke-width="0.8" />
<text x="184.50" y="426.05" font-size="6.3" stroke="#000" stroke-width="0.18" text-anchor="end" >20</text>
<line x1="184.60" y1="413.10" x2="186.40" y2="413.10" stroke="#000" stroke-width="0.8" />
<text x="184.50" y="415.30" font-size="6.3" stroke="#000" stroke-width="0.18" text-anchor="end" >40</text>
<line x1="184.60" y1="402.35" x2="186.40" y2="402.35" stroke="#000" stroke-width="0.8" />
<text x="184.50" y="404.55" font-size="6.3" stroke="#000" stroke-width="0.18" text-anchor="end" >60</text>
<line x1="184.60" y1="391.60" x2="186.40" y2="391.60" stroke="#000" stroke-width="0.8" />
<text x="184.50" y="393.80" font-size="6.3" stroke="#000" stroke-width="0.18" text-anchor="end" >80</text>
<line x1="184.60" y1="380.85" x2="186.40" y2="380.85" stroke="#000" stroke-width="0.8" />
<text x="184.50" y="383.05" font-size="6.3" stroke="#000" stroke-width="0.18" text-anchor="end" >100</text>
<line x1="185.40" y1="434.60" x2="186.40" y2="434.60" stroke="#000" stroke-width="0.5" />
<line x1="185.40" y1="432.45" x2="186.40" y2="432.45" stroke="#000" stroke-width="0.5" />
<line x1="185.40" y1="430.30" x2="186.40" y2="430.30" stroke="#000" stroke-width="0.5" />
<line x1="185.40" y1="428.15" x2="186.40" y2="428.15" stroke="#000" stroke-width="0.5" />
<line x1="185.40" y1="426.00" x2="186.40" y2="426.00" stroke="#000" stroke-width="0.5" />
<line x1="185.40" y1="423.85" x2="186.40" y2="423.85" stroke="#000" stroke-width="0.5" />
<line x1="185.40" y1="421.70" x2="186.40" y2="421.70" stroke="#000" stroke-width="0.5" />
<line x1="185.40" y1="419.55" x2="186.40" y2="419.55" stroke="#000" stroke-width="0.5" />
<line x1="185.40" y1="417.40" x2="186.40" y2="417.40" stroke="#000" stroke-width="0.5" />
<line x1="185.40" y1="415.25" x2="186.40" y2="415.25" stroke="#000" stroke-width="0.5" />
<line x1="185.40" y1="413.10" x2="186.40" y2="413.10" stroke="#000" stroke-width="0.5" />
<line x1="185.40" y1="410.95" x2="186.40" y2="410.95" stroke="#000" stroke-width="0.5" />
<line x1="185.40" y1="408.80" x2="186.40" y2="408.80" stroke="#000" stroke-width="0.5" />
<line x1="185.40" y1="406.65" x2="186.40" y2="406.65" stroke="#000" stroke-width="0.5" />
<line x1="185.40" y1="404.50" x2="186.40" y2="404.50" stroke="#000" stroke-width="0.5" />
<line x1="185.40" y1="402.35" x2="186.40" y2="402.35" stroke="#000" stroke-width="0.5" />
<line x1="185.40" y1="400.20" x2="186.40" y2="400.20" stroke="#000" stroke-width="0.5" />
<line x1="185.40" y1="398.05" x2="186.40" y2="398.05" stroke="#000" stroke-width="0.5" />
<line x1="185.40" y1="395.90" x2="186.40" y2="395.90" stroke="#000" stroke-width="0.5" />
<line x1="185.40" y1="393.75" x2="186.40" y2="393.75" stroke="#000" stroke-width="0.5" />
<line x1="185.40" y1="391.60" x2="186.40" y2="391.60" stroke="#000" stroke-width="0.5" />
<line x1="185.40" y1="389.45" x2="186.40" y2="389.45" stroke="#000" stroke-width="0.5" />
<line x1="185.40" y1="387.30" x2="186.40" y2="387.30" stroke="#000" stroke-width="0.5" />
<line x1="185.40" y1="385.15" x2="186.40" y2="385.15" stroke="#000" stroke-width="0.5" />
<line x1="185.40" y1="383.00" x2="186.40" y2="383.00" stroke="#000" stroke-width="0.5" />
<line x1="185.40" y1="380.85" x2="186.40" y2="380.85" stroke="#000" stroke-width="0.5" />
<path d="M255.3,429.7 L256.5,431.4 L257.6,432.5 L262.2,432.5 L269.2,432.0 L270.3,429.7 L272.6,426.8 L274.9,425.6 L276.7,423.3 L277.8,419.3 L279.5,417.0 L281.8,417.5 L283.2,414.1 L284.7,410.6 L286.5,407.2 L287.6,402.5 L288.2,398.5 L289.7,397.3 L290.5,400.2 L291.3,406.0 L292.8,412.9 L294.5,422.2 L295.9,429.1 L298.0,433.1 L300.3,434.3 L300.3,434.6 L255.3,434.6 Z" fill="#f3b4de" stroke="none"/>
<path d="M255.3,429.7 L256.5,431.4 L257.6,432.5 L262.2,432.5 L269.2,432.0 L270.3,429.7 L272.6,426.8 L274.9,425.6 L276.7,423.3 L277.8,419.3 L279.5,417.0 L281.8,417.5 L283.2,414.1 L284.7,410.6 L286.5,407.2 L287.6,402.5 L288.2,398.5 L289.7,397.3 L290.5,400.2 L291.3,406.0 L292.8,412.9 L294.5,422.2 L295.9,429.1 L298.0,433.1 L300.3,434.3 L300.3,434.6 L255.3,434.6" fill="none" stroke="#e0102e" stroke-width="1.2" stroke-linejoin="round"/>
<path d="M255.3,432.5 L259.9,432.5 L268.0,432.5 L274.3,432.0 L276.1,426.8 L277.8,425.6 L280.7,424.5 L283.0,423.3 L284.7,421.6 L286.5,419.8 L288.2,418.7 L289.9,415.2 L291.1,410.6 L292.2,404.8 L293.4,394.5 L294.5,392.2 L295.7,396.8 L296.6,399.1 L297.8,396.2 L298.9,399.1 L299.7,406.0 L300.9,418.7 L302.0,426.8 L303.8,430.2 L306.1,432.5 L309.0,433.7 L310.1,429.1 L310.7,419.8 L311.3,418.7 L311.3,434.6 L255.3,434.6 Z" fill="#bfe4ec" stroke="none" style="mix-blend-mode:multiply"/>
<path d="M255.3,432.5 L259.9,432.5 L268.0,432.5 L274.3,432.0 L276.1,426.8 L277.8,425.6 L280.7,424.5 L283.0,423.3 L284.7,421.6 L286.5,419.8 L288.2,418.7 L289.9,415.2 L291.1,410.6 L292.2,404.8 L293.4,394.5 L294.5,392.2 L295.7,396.8 L296.6,399.1 L297.8,396.2 L298.9,399.1 L299.7,406.0 L300.9,418.7 L302.0,426.8 L303.8,430.2 L306.1,432.5 L309.0,433.7 L310.1,429.1 L310.7,419.8 L311.3,418.7 L311.3,434.6 L255.3,434.6" fill="none" stroke="#1438c8" stroke-width="1.2" stroke-linejoin="round"/>
<rect x="255.1" y="378.1" width="56.2" height="56.5" fill="none" stroke="#000" stroke-width="1.3"/>
<line x1="284.00" y1="381.10" x2="310.50" y2="381.10" stroke="#111" stroke-width="1.3" />
<line x1="284.00" y1="379.90" x2="284.00" y2="382.30" stroke="#111" stroke-width="1.0" />
<line x1="253.30" y1="434.00" x2="255.10" y2="434.00" stroke="#000" stroke-width="0.8" />
<text x="253.20" y="436.20" font-size="6.3" stroke="#000" stroke-width="0.18" text-anchor="end" >0</text>
<line x1="253.30" y1="423.25" x2="255.10" y2="423.25" stroke="#000" stroke-width="0.8" />
<text x="253.20" y="425.45" font-size="6.3" stroke="#000" stroke-width="0.18" text-anchor="end" >20</text>
<line x1="253.30" y1="412.50" x2="255.10" y2="412.50" stroke="#000" stroke-width="0.8" />
<text x="253.20" y="414.70" font-size="6.3" stroke="#000" stroke-width="0.18" text-anchor="end" >40</text>
<line x1="253.30" y1="401.75" x2="255.10" y2="401.75" stroke="#000" stroke-width="0.8" />
<text x="253.20" y="403.95" font-size="6.3" stroke="#000" stroke-width="0.18" text-anchor="end" >60</text>
<line x1="253.30" y1="391.00" x2="255.10" y2="391.00" stroke="#000" stroke-width="0.8" />
<text x="253.20" y="393.20" font-size="6.3" stroke="#000" stroke-width="0.18" text-anchor="end" >80</text>
<line x1="253.30" y1="380.25" x2="255.10" y2="380.25" stroke="#000" stroke-width="0.8" />
<text x="253.20" y="382.45" font-size="6.3" stroke="#000" stroke-width="0.18" text-anchor="end" >00</text>
<line x1="254.10" y1="434.00" x2="255.10" y2="434.00" stroke="#000" stroke-width="0.5" />
<line x1="254.10" y1="431.85" x2="255.10" y2="431.85" stroke="#000" stroke-width="0.5" />
<line x1="254.10" y1="429.70" x2="255.10" y2="429.70" stroke="#000" stroke-width="0.5" />
<line x1="254.10" y1="427.55" x2="255.10" y2="427.55" stroke="#000" stroke-width="0.5" />
<line x1="254.10" y1="425.40" x2="255.10" y2="425.40" stroke="#000" stroke-width="0.5" />
<line x1="254.10" y1="423.25" x2="255.10" y2="423.25" stroke="#000" stroke-width="0.5" />
<line x1="254.10" y1="421.10" x2="255.10" y2="421.10" stroke="#000" stroke-width="0.5" />
<line x1="254.10" y1="418.95" x2="255.10" y2="418.95" stroke="#000" stroke-width="0.5" />
<line x1="254.10" y1="416.80" x2="255.10" y2="416.80" stroke="#000" stroke-width="0.5" />
<line x1="254.10" y1="414.65" x2="255.10" y2="414.65" stroke="#000" stroke-width="0.5" />
<line x1="254.10" y1="412.50" x2="255.10" y2="412.50" stroke="#000" stroke-width="0.5" />
<line x1="254.10" y1="410.35" x2="255.10" y2="410.35" stroke="#000" stroke-width="0.5" />
<line x1="254.10" y1="408.20" x2="255.10" y2="408.20" stroke="#000" stroke-width="0.5" />
<line x1="254.10" y1="406.05" x2="255.10" y2="406.05" stroke="#000" stroke-width="0.5" />
<line x1="254.10" y1="403.90" x2="255.10" y2="403.90" stroke="#000" stroke-width="0.5" />
<line x1="254.10" y1="401.75" x2="255.10" y2="401.75" stroke="#000" stroke-width="0.5" />
<line x1="254.10" y1="399.60" x2="255.10" y2="399.60" stroke="#000" stroke-width="0.5" />
<line x1="254.10" y1="397.45" x2="255.10" y2="397.45" stroke="#000" stroke-width="0.5" />
<line x1="254.10" y1="395.30" x2="255.10" y2="395.30" stroke="#000" stroke-width="0.5" />
<line x1="254.10" y1="393.15" x2="255.10" y2="393.15" stroke="#000" stroke-width="0.5" />
<line x1="254.10" y1="391.00" x2="255.10" y2="391.00" stroke="#000" stroke-width="0.5" />
<line x1="254.10" y1="388.85" x2="255.10" y2="388.85" stroke="#000" stroke-width="0.5" />
<line x1="254.10" y1="386.70" x2="255.10" y2="386.70" stroke="#000" stroke-width="0.5" />
<line x1="254.10" y1="384.55" x2="255.10" y2="384.55" stroke="#000" stroke-width="0.5" />
<line x1="254.10" y1="382.40" x2="255.10" y2="382.40" stroke="#000" stroke-width="0.5" />
<line x1="254.10" y1="380.25" x2="255.10" y2="380.25" stroke="#000" stroke-width="0.5" />
<text x="188.80" y="442.30" font-size="5.6" stroke="#000" stroke-width="0.18" text-anchor="middle" >10<tspan font-size="3.5" dy="-2.2">0</tspan></text>
<text x="200.80" y="442.30" font-size="5.6" stroke="#000" stroke-width="0.18" text-anchor="middle" >10<tspan font-size="3.5" dy="-2.2">1</tspan></text>
<text x="214.60" y="442.30" font-size="5.6" stroke="#000" stroke-width="0.18" text-anchor="middle" >10<tspan font-size="3.5" dy="-2.2">2</tspan></text>
<text x="228.50" y="442.30" font-size="5.6" stroke="#000" stroke-width="0.18" text-anchor="middle" >10<tspan font-size="3.5" dy="-2.2">3</tspan></text>
<text x="241.00" y="442.30" font-size="5.6" stroke="#000" stroke-width="0.18" text-anchor="middle" >10<tspan font-size="3.5" dy="-2.2">4</tspan></text>
<text x="258.90" y="441.90" font-size="5.6" stroke="#000" stroke-width="0.18" text-anchor="middle" >10<tspan font-size="3.5" dy="-2.2">0</tspan></text>
<text x="268.50" y="441.90" font-size="5.6" stroke="#000" stroke-width="0.18" text-anchor="middle" >10<tspan font-size="3.5" dy="-2.2">1</tspan></text>
<text x="283.50" y="441.90" font-size="5.6" stroke="#000" stroke-width="0.18" text-anchor="middle" >10<tspan font-size="3.5" dy="-2.2">2</tspan></text>
<text x="297.60" y="441.90" font-size="5.6" stroke="#000" stroke-width="0.18" text-anchor="middle" >10<tspan font-size="3.5" dy="-2.2">3</tspan></text>
<text x="309.90" y="441.90" font-size="5.6" stroke="#000" stroke-width="0.18" text-anchor="middle" >10<tspan font-size="3.5" dy="-2.2">4</tspan></text>
<path d="M174.2,426.3 L174.2,447.9 L195.2,447.9" fill="none" stroke="#2050d0" stroke-width="1.2" />
<circle cx="174.20" cy="426.30" r="0.90" fill="#2050d0" />
<circle cx="195.20" cy="447.90" r="0.90" fill="#2050d0" />
<text transform="translate(170.00,436.00) rotate(-90)" font-size="6.4" stroke="#000" stroke-width="0.3" text-anchor="middle" textLength="21.6" lengthAdjust="spacingAndGlyphs" >counts</text>
<text x="176.10" y="454.00" font-size="6.6" stroke="#000" stroke-width="0.3" textLength="12.7" lengthAdjust="spacingAndGlyphs" >HbF</text>
<text x="158.10" y="478.70" font-size="10.5" stroke="#000" stroke-width="0.3" font-weight="bold" >I</text>
<circle cx="220.00" cy="479.60" r="2.10" fill="#c8101e" />
<text x="225.40" y="482.40" font-size="8.4" stroke="#000" stroke-width="0.18" textLength="15.0" lengthAdjust="spacingAndGlyphs" >untr</text>
<rect x="247.30" y="477.60" width="4.00" height="4.00" fill="#0433a8" />
<text x="253.40" y="482.50" font-size="8.4" stroke="#000" stroke-width="0.18" textLength="68.6" lengthAdjust="spacingAndGlyphs" >BCL11A+HBG-115</text>
<line x1="186.00" y1="493.20" x2="186.00" y2="553.30" stroke="#111" stroke-width="1.3" />
<line x1="184.00" y1="552.90" x2="186.00" y2="552.90" stroke="#111" stroke-width="1.0" />
<text x="183.60" y="555.10" font-size="6.2" stroke="#000" stroke-width="0.18" text-anchor="end" >0</text>
<line x1="184.00" y1="541.06" x2="186.00" y2="541.06" stroke="#111" stroke-width="1.0" />
<text x="183.60" y="543.26" font-size="6.2" stroke="#000" stroke-width="0.18" text-anchor="end" >20</text>
<line x1="184.00" y1="529.22" x2="186.00" y2="529.22" stroke="#111" stroke-width="1.0" />
<text x="183.60" y="531.42" font-size="6.2" stroke="#000" stroke-width="0.18" text-anchor="end" >40</text>
<line x1="184.00" y1="517.38" x2="186.00" y2="517.38" stroke="#111" stroke-width="1.0" />
<text x="183.60" y="519.58" font-size="6.2" stroke="#000" stroke-width="0.18" text-anchor="end" >60</text>
<line x1="184.00" y1="505.54" x2="186.00" y2="505.54" stroke="#111" stroke-width="1.0" />
<text x="183.60" y="507.74" font-size="6.2" stroke="#000" stroke-width="0.18" text-anchor="end" >80</text>
<line x1="184.00" y1="493.70" x2="186.00" y2="493.70" stroke="#111" stroke-width="1.0" />
<text x="183.60" y="495.90" font-size="6.2" stroke="#000" stroke-width="0.18" text-anchor="end" >100</text>
<line x1="185.40" y1="552.90" x2="243.50" y2="552.90" stroke="#111" stroke-width="1.4" />
<line x1="214.20" y1="552.90" x2="214.20" y2="554.80" stroke="#111" stroke-width="1" />
<text transform="translate(169.80,517.50) rotate(-90)" font-size="7.0" stroke="#000" stroke-width="0.18" text-anchor="middle" textLength="60.5" lengthAdjust="spacingAndGlyphs" >% of HbF+ (BFU-E)</text>
<circle cx="200.20" cy="500.80" r="1.50" fill="#c8101e" />
<circle cx="203.30" cy="498.50" r="1.50" fill="#c8101e" />
<circle cx="197.90" cy="517.30" r="1.50" fill="#c8101e" />
<circle cx="201.70" cy="517.70" r="1.50" fill="#c8101e" />
<circle cx="205.20" cy="516.70" r="1.50" fill="#c8101e" />
<circle cx="201.70" cy="525.00" r="1.50" fill="#c8101e" />
<circle cx="201.70" cy="538.80" r="1.50" fill="#c8101e" />
<circle cx="197.90" cy="543.30" r="1.50" fill="#c8101e" />
<circle cx="203.30" cy="542.10" r="1.50" fill="#c8101e" />
<line x1="191.70" y1="522.10" x2="211.30" y2="522.10" stroke="#c8101e" stroke-width="1.2" />
<line x1="197.30" y1="516.90" x2="206.50" y2="516.90" stroke="#c8101e" stroke-width="1.0" />
<line x1="197.30" y1="527.70" x2="206.50" y2="527.70" stroke="#c8101e" stroke-width="1.0" />
<line x1="201.90" y1="516.90" x2="201.90" y2="527.70" stroke="#c8101e" stroke-width="1.0" />
<line x1="219.30" y1="506.10" x2="239.20" y2="506.10" stroke="#5078e0" stroke-width="1.3" />
<line x1="224.50" y1="504.30" x2="234.50" y2="504.30" stroke="#5078e0" stroke-width="1.0" />
<line x1="224.50" y1="508.30" x2="234.50" y2="508.30" stroke="#5078e0" stroke-width="1.0" />
<line x1="229.60" y1="503.00" x2="229.60" y2="509.00" stroke="#5078e0" stroke-width="1.2" />
<circle cx="226.40" cy="499.90" r="1.45" fill="#0a2cb0" stroke="#3dd05a" stroke-width="0.6"/>
<circle cx="229.60" cy="498.40" r="1.45" fill="#0a2cb0" stroke="#3dd05a" stroke-width="0.6"/>
<circle cx="233.00" cy="500.40" r="1.45" fill="#0a2cb0" stroke="#3dd05a" stroke-width="0.6"/>
<circle cx="229.60" cy="503.30" r="1.45" fill="#0a2cb0" stroke="#3dd05a" stroke-width="0.6"/>
<circle cx="224.60" cy="505.00" r="1.45" fill="#0a2cb0" stroke="#3dd05a" stroke-width="0.6"/>
<circle cx="227.70" cy="508.60" r="1.45" fill="#0a2cb0" stroke="#3dd05a" stroke-width="0.6"/>
<circle cx="231.30" cy="508.60" r="1.45" fill="#0a2cb0" stroke="#3dd05a" stroke-width="0.6"/>
<circle cx="234.80" cy="508.60" r="1.45" fill="#0a2cb0" stroke="#3dd05a" stroke-width="0.6"/>
<circle cx="231.30" cy="512.60" r="1.45" fill="#0a2cb0" stroke="#3dd05a" stroke-width="0.6"/>
<circle cx="227.90" cy="515.40" r="1.45" fill="#0a2cb0" stroke="#3dd05a" stroke-width="0.6"/>
<polygon points="226.80,490.20 227.33,491.57 228.80,491.65 227.66,492.58 228.03,494.00 226.80,493.20 225.57,494.00 225.94,492.58 224.80,491.65 226.27,491.57" fill="#111"/>
<polygon points="232.30,490.20 232.83,491.57 234.30,491.65 233.16,492.58 233.53,494.00 232.30,493.20 231.07,494.00 231.44,492.58 230.30,491.65 231.77,491.57" fill="#111"/>
<line x1="270.20" y1="491.30" x2="270.20" y2="553.60" stroke="#111" stroke-width="1.3" />
<line x1="268.40" y1="553.30" x2="270.20" y2="553.30" stroke="#111" stroke-width="1.0" />
<text x="266.90" y="555.10" font-size="5.0" stroke="#333" stroke-width="0.05" text-anchor="end" fill="#333" >0</text>
<line x1="268.40" y1="537.90" x2="270.20" y2="537.90" stroke="#111" stroke-width="1.0" />
<text x="266.90" y="539.70" font-size="5.0" stroke="#333" stroke-width="0.05" text-anchor="end" fill="#333" >500</text>
<line x1="268.40" y1="522.50" x2="270.20" y2="522.50" stroke="#111" stroke-width="1.0" />
<text x="266.90" y="524.30" font-size="5.0" stroke="#333" stroke-width="0.05" text-anchor="end" fill="#333" >1000</text>
<line x1="268.40" y1="507.10" x2="270.20" y2="507.10" stroke="#111" stroke-width="1.0" />
<text x="266.90" y="508.90" font-size="5.0" stroke="#333" stroke-width="0.05" text-anchor="end" fill="#333" >1500</text>
<line x1="268.40" y1="491.70" x2="270.20" y2="491.70" stroke="#111" stroke-width="1.0" />
<text x="266.90" y="493.50" font-size="5.0" stroke="#333" stroke-width="0.05" text-anchor="end" fill="#333" >2000</text>
<line x1="269.60" y1="553.30" x2="334.20" y2="553.30" stroke="#111" stroke-width="1.4" />
<line x1="301.90" y1="553.30" x2="301.90" y2="555.20" stroke="#111" stroke-width="1" />
<text transform="translate(253.10,523.40) rotate(-90)" font-size="7.0" stroke="#000" stroke-width="0.18" text-anchor="middle" textLength="55.8" lengthAdjust="spacingAndGlyphs" >HbF MFI (BFU-E)</text>
<circle cx="282.70" cy="532.10" r="1.50" fill="#c8101e" />
<circle cx="286.20" cy="531.50" r="1.50" fill="#c8101e" />
<circle cx="289.60" cy="531.50" r="1.50" fill="#c8101e" />
<circle cx="282.30" cy="536.90" r="1.50" fill="#c8101e" />
<circle cx="288.10" cy="537.90" r="1.50" fill="#c8101e" />
<circle cx="285.20" cy="540.80" r="1.50" fill="#c8101e" />
<circle cx="282.30" cy="544.60" r="1.50" fill="#c8101e" />
<circle cx="286.20" cy="545.60" r="1.50" fill="#c8101e" />
<circle cx="289.60" cy="548.50" r="1.50" fill="#c8101e" />
<line x1="280.40" y1="540.20" x2="296.20" y2="540.20" stroke="#c8101e" stroke-width="1.2" />
<line x1="283.50" y1="537.30" x2="292.50" y2="537.30" stroke="#c8101e" stroke-width="1.0" />
<line x1="283.50" y1="543.10" x2="292.50" y2="543.10" stroke="#c8101e" stroke-width="1.0" />
<line x1="288.00" y1="537.30" x2="288.00" y2="543.10" stroke="#c8101e" stroke-width="1.0" />
<rect x="316.40" y="508.10" width="3.00" height="3.00" fill="#0a3ac0" />
<rect x="320.80" y="507.50" width="3.00" height="3.00" fill="#0a3ac0" />
<rect x="316.40" y="513.90" width="3.00" height="3.00" fill="#0a3ac0" />
<rect x="320.80" y="515.80" width="3.00" height="3.00" fill="#0a3ac0" />
<rect x="318.90" y="524.80" width="3.00" height="3.00" fill="#0a3ac0" />
<rect x="316.40" y="535.40" width="3.00" height="3.00" fill="#0a3ac0" />
<rect x="320.80" y="537.30" width="3.00" height="3.00" fill="#0a3ac0" />
<rect x="313.50" y="545.40" width="3.00" height="3.00" fill="#0a3ac0" />
<rect x="318.30" y="545.40" width="3.00" height="3.00" fill="#0a3ac0" />
<line x1="309.20" y1="527.30" x2="331.30" y2="527.30" stroke="#0a3ac0" stroke-width="1.3" />
<line x1="314.60" y1="522.50" x2="325.60" y2="522.50" stroke="#0a3ac0" stroke-width="1.2" />
<line x1="314.60" y1="532.70" x2="325.60" y2="532.70" stroke="#0a3ac0" stroke-width="1.2" />
<line x1="320.10" y1="522.50" x2="320.10" y2="532.70" stroke="#0a3ac0" stroke-width="1.2" />
<polygon points="321.70,498.30 322.23,499.67 323.70,499.75 322.56,500.68 322.93,502.10 321.70,501.30 320.47,502.10 320.84,500.68 319.70,499.75 321.17,499.67" fill="#111"/>
<text x="348.70" y="353.50" font-size="10.5" stroke="#000" stroke-width="0.3" font-weight="bold" >J</text>
<rect x="379.00" y="355.00" width="9.50" height="8.10" fill="#d0061e" />
<text x="392.90" y="362.40" font-size="8.8" stroke="#000" stroke-width="0.18" textLength="16" lengthAdjust="spacingAndGlyphs" >untr</text>
<rect x="421.20" y="355.00" width="9.50" height="8.10" fill="#0c36b8" />
<text x="434.90" y="362.50" font-size="8.8" stroke="#000" stroke-width="0.18" textLength="75.1" lengthAdjust="spacingAndGlyphs" >BCL11A+HBG-115</text>
<text transform="translate(356.20,400.50) rotate(-90)" font-size="10.5" stroke="#000" stroke-width="0.45" text-anchor="middle" >β<tspan font-size="7" dy="-3.5">0</tspan><tspan dy="3.5">/β</tspan><tspan font-size="7" dy="-3.5">+</tspan></text>
<text transform="translate(356.20,475.10) rotate(-90)" font-size="10.5" stroke="#000" stroke-width="0.45" text-anchor="middle" >β<tspan font-size="7" dy="-3.5">0</tspan><tspan dy="3.5">/β</tspan><tspan font-size="7" dy="-3.5">0</tspan></text>
<path d="M371.6,436.6 C374.8,435.9 376.8,437.0 381.1,434.4 C385.4,431.8 382.0,435.8 384.6,428.8 C387.2,421.8 386.9,418.8 388.9,413.3 C390.9,407.8 388.7,413.7 390.7,412.4 C392.7,411.1 393.0,409.8 395.0,409.4 C397.0,409.0 395.6,411.0 396.7,411.2 C397.8,411.4 396.7,407.1 398.4,410.1 C400.1,413.1 399.6,414.0 401.9,420.2 C404.2,426.4 402.5,425.2 405.4,428.8 C408.3,432.4 408.3,430.6 410.6,430.9 C412.9,431.2 411.3,429.5 412.3,429.7 C413.3,429.9 412.3,431.4 413.7,431.4 C415.1,431.4 413.6,432.9 416.6,429.7 C419.6,426.5 420.1,425.7 422.7,421.9 C425.3,418.1 423.0,419.4 424.4,418.4 C425.8,417.4 425.3,415.9 427.0,418.8 C428.7,421.7 427.9,421.7 429.6,427.1 C431.3,432.5 431.3,432.3 432.2,434.9 L432.2,437.5 L371.6,437.5 Z" fill="#f6bfe0" stroke="none"/>
<path d="M371.6,436.6 C374.8,435.9 376.8,437.0 381.1,434.4 C385.4,431.8 382.0,435.8 384.6,428.8 C387.2,421.8 386.9,418.8 388.9,413.3 C390.9,407.8 388.7,413.7 390.7,412.4 C392.7,411.1 393.0,409.8 395.0,409.4 C397.0,409.0 395.6,411.0 396.7,411.2 C397.8,411.4 396.7,407.1 398.4,410.1 C400.1,413.1 399.6,414.0 401.9,420.2 C404.2,426.4 402.5,425.2 405.4,428.8 C408.3,432.4 408.3,430.6 410.6,430.9 C412.9,431.2 411.3,429.5 412.3,429.7 C413.3,429.9 412.3,431.4 413.7,431.4 C415.1,431.4 413.6,432.9 416.6,429.7 C419.6,426.5 420.1,425.7 422.7,421.9 C425.3,418.1 423.0,419.4 424.4,418.4 C425.8,417.4 425.3,415.9 427.0,418.8 C428.7,421.7 427.9,421.7 429.6,427.1 C431.3,432.5 431.3,432.3 432.2,434.9" fill="none" stroke="#d8102c" stroke-width="1.3" stroke-linejoin="round"/>
<rect x="370.8" y="376.6" width="62.1" height="60.9" fill="none" stroke="#000" stroke-width="1.3"/>
<line x1="406.20" y1="391.60" x2="432.90" y2="391.60" stroke="#111" stroke-width="1.3" />
<line x1="406.20" y1="390.10" x2="406.20" y2="393.10" stroke="#111" stroke-width="1.0" />
<text x="412.30" y="386.40" font-size="7.2" stroke="#000" stroke-width="0.18" textLength="20.0" lengthAdjust="spacingAndGlyphs" >36.7%</text>
<line x1="369.00" y1="437.10" x2="370.80" y2="437.10" stroke="#000" stroke-width="0.8" />
<text x="368.80" y="438.90" font-size="5.2" stroke="#000" stroke-width="0.18" text-anchor="end" >0</text>
<line x1="369.00" y1="422.17" x2="370.80" y2="422.17" stroke="#000" stroke-width="0.8" />
<text x="368.80" y="423.97" font-size="5.2" stroke="#000" stroke-width="0.18" text-anchor="end" >50</text>
<line x1="369.00" y1="407.24" x2="370.80" y2="407.24" stroke="#000" stroke-width="0.8" />
<text x="368.80" y="409.04" font-size="5.2" stroke="#000" stroke-width="0.18" text-anchor="end" >100</text>
<line x1="369.00" y1="392.31" x2="370.80" y2="392.31" stroke="#000" stroke-width="0.8" />
<text x="368.80" y="394.11" font-size="5.2" stroke="#000" stroke-width="0.18" text-anchor="end" >150</text>
<line x1="369.00" y1="377.38" x2="370.80" y2="377.38" stroke="#000" stroke-width="0.8" />
<text x="368.80" y="379.18" font-size="5.2" stroke="#000" stroke-width="0.18" text-anchor="end" >200</text>
<line x1="369.80" y1="437.10" x2="370.80" y2="437.10" stroke="#000" stroke-width="0.5" />
<line x1="369.80" y1="434.11" x2="370.80" y2="434.11" stroke="#000" stroke-width="0.5" />
<line x1="369.80" y1="431.13" x2="370.80" y2="431.13" stroke="#000" stroke-width="0.5" />
<line x1="369.80" y1="428.14" x2="370.80" y2="428.14" stroke="#000" stroke-width="0.5" />
<line x1="369.80" y1="425.16" x2="370.80" y2="425.16" stroke="#000" stroke-width="0.5" />
<line x1="369.80" y1="422.17" x2="370.80" y2="422.17" stroke="#000" stroke-width="0.5" />
<line x1="369.80" y1="419.18" x2="370.80" y2="419.18" stroke="#000" stroke-width="0.5" />
<line x1="369.80" y1="416.20" x2="370.80" y2="416.20" stroke="#000" stroke-width="0.5" />
<line x1="369.80" y1="413.21" x2="370.80" y2="413.21" stroke="#000" stroke-width="0.5" />
<line x1="369.80" y1="410.23" x2="370.80" y2="410.23" stroke="#000" stroke-width="0.5" />
<line x1="369.80" y1="407.24" x2="370.80" y2="407.24" stroke="#000" stroke-width="0.5" />
<line x1="369.80" y1="404.25" x2="370.80" y2="404.25" stroke="#000" stroke-width="0.5" />
<line x1="369.80" y1="401.27" x2="370.80" y2="401.27" stroke="#000" stroke-width="0.5" />
<line x1="369.80" y1="398.28" x2="370.80" y2="398.28" stroke="#000" stroke-width="0.5" />
<line x1="369.80" y1="395.30" x2="370.80" y2="395.30" stroke="#000" stroke-width="0.5" />
<line x1="369.80" y1="392.31" x2="370.80" y2="392.31" stroke="#000" stroke-width="0.5" />
<line x1="369.80" y1="389.32" x2="370.80" y2="389.32" stroke="#000" stroke-width="0.5" />
<line x1="369.80" y1="386.34" x2="370.80" y2="386.34" stroke="#000" stroke-width="0.5" />
<line x1="369.80" y1="383.35" x2="370.80" y2="383.35" stroke="#000" stroke-width="0.5" />
<line x1="369.80" y1="380.37" x2="370.80" y2="380.37" stroke="#000" stroke-width="0.5" />
<line x1="369.80" y1="377.38" x2="370.80" y2="377.38" stroke="#000" stroke-width="0.5" />
<text x="373.40" y="446.10" font-size="5.2" stroke="#000" stroke-width="0.18" text-anchor="middle" >10<tspan font-size="3.2" dy="-2.1">0</tspan></text>
<text x="385.50" y="446.10" font-size="5.2" stroke="#000" stroke-width="0.18" text-anchor="middle" >10<tspan font-size="3.2" dy="-2.1">1</tspan></text>
<text x="401.90" y="446.10" font-size="5.2" stroke="#000" stroke-width="0.18" text-anchor="middle" >10<tspan font-size="3.2" dy="-2.1">2</tspan></text>
<text x="417.10" y="446.10" font-size="5.2" stroke="#000" stroke-width="0.18" text-anchor="middle" >10<tspan font-size="3.2" dy="-2.1">3</tspan></text>
<text x="430.10" y="446.10" font-size="5.2" stroke="#000" stroke-width="0.18" text-anchor="middle" >10<tspan font-size="3.2" dy="-2.1">4</tspan></text>
<path d="M449.5,437.6 C450.8,437.0 450.8,437.3 453.4,435.7 C456.0,434.1 455.2,434.7 457.3,432.7 C459.4,430.7 458.4,433.4 459.7,429.8 C461.0,426.2 460.4,427.9 461.2,422.0 C462.0,416.1 461.5,420.7 462.2,412.2 C462.9,403.7 462.5,405.0 463.2,396.6 C463.9,388.2 463.6,391.8 464.2,386.9 C464.8,382.0 464.5,382.8 465.1,382.0 C465.7,381.2 465.4,381.6 466.1,384.5 C466.8,387.4 466.2,387.1 467.1,390.8 C468.0,394.5 467.7,392.4 468.7,395.6 C469.7,398.8 469.1,395.6 470.0,400.5 C470.9,405.4 470.3,403.8 471.4,410.3 C472.5,416.8 471.8,414.1 473.3,420.0 C474.8,425.9 474.1,423.3 475.9,427.9 C477.7,432.5 476.9,430.8 478.8,433.7 C480.7,436.6 479.1,435.7 481.7,436.6 C484.3,437.5 483.0,436.5 486.6,436.3 C490.2,436.1 488.9,436.6 492.5,436.1 C496.1,435.6 494.5,435.8 497.4,434.7 C500.3,433.6 499.2,433.2 501.3,432.7 C503.4,432.2 501.9,432.3 503.8,433.3 C505.7,434.3 505.1,434.5 507.1,435.7 C509.1,436.9 508.8,436.6 509.7,437.0 L509.7,438.0 L449.5,438.0 Z" fill="#c4e6ee" stroke="none"/>
<path d="M449.5,437.6 C450.8,437.0 450.8,437.3 453.4,435.7 C456.0,434.1 455.2,434.7 457.3,432.7 C459.4,430.7 458.4,433.4 459.7,429.8 C461.0,426.2 460.4,427.9 461.2,422.0 C462.0,416.1 461.5,420.7 462.2,412.2 C462.9,403.7 462.5,405.0 463.2,396.6 C463.9,388.2 463.6,391.8 464.2,386.9 C464.8,382.0 464.5,382.8 465.1,382.0 C465.7,381.2 465.4,381.6 466.1,384.5 C466.8,387.4 466.2,387.1 467.1,390.8 C468.0,394.5 467.7,392.4 468.7,395.6 C469.7,398.8 469.1,395.6 470.0,400.5 C470.9,405.4 470.3,403.8 471.4,410.3 C472.5,416.8 471.8,414.1 473.3,420.0 C474.8,425.9 474.1,423.3 475.9,427.9 C477.7,432.5 476.9,430.8 478.8,433.7 C480.7,436.6 479.1,435.7 481.7,436.6 C484.3,437.5 483.0,436.5 486.6,436.3 C490.2,436.1 488.9,436.6 492.5,436.1 C496.1,435.6 494.5,435.8 497.4,434.7 C500.3,433.6 499.2,433.2 501.3,432.7 C503.4,432.2 501.9,432.3 503.8,433.3 C505.7,434.3 505.1,434.5 507.1,435.7 C509.1,436.9 508.8,436.6 509.7,437.0" fill="none" stroke="#1a40c8" stroke-width="1.3" stroke-linejoin="round"/>
<rect x="448.6" y="376.5" width="61.7" height="61.5" fill="none" stroke="#000" stroke-width="1.3"/>
<line x1="481.30" y1="392.70" x2="510.30" y2="392.70" stroke="#111" stroke-width="1.3" />
<line x1="481.30" y1="391.20" x2="481.30" y2="394.20" stroke="#111" stroke-width="1.0" />
<text x="489.50" y="386.90" font-size="7.2" stroke="#000" stroke-width="0.18" textLength="20.2" lengthAdjust="spacingAndGlyphs" >15.2%</text>
<line x1="446.80" y1="437.60" x2="448.60" y2="437.60" stroke="#000" stroke-width="0.8" />
<text x="446.60" y="439.40" font-size="5.2" stroke="#000" stroke-width="0.18" text-anchor="end" >0</text>
<line x1="446.80" y1="424.02" x2="448.60" y2="424.02" stroke="#000" stroke-width="0.8" />
<text x="446.60" y="425.82" font-size="5.2" stroke="#000" stroke-width="0.18" text-anchor="end" >50</text>
<line x1="446.80" y1="410.44" x2="448.60" y2="410.44" stroke="#000" stroke-width="0.8" />
<text x="446.60" y="412.24" font-size="5.2" stroke="#000" stroke-width="0.18" text-anchor="end" >100</text>
<line x1="446.80" y1="396.86" x2="448.60" y2="396.86" stroke="#000" stroke-width="0.8" />
<text x="446.60" y="398.66" font-size="5.2" stroke="#000" stroke-width="0.18" text-anchor="end" >150</text>
<line x1="446.80" y1="383.28" x2="448.60" y2="383.28" stroke="#000" stroke-width="0.8" />
<text x="446.60" y="385.08" font-size="5.2" stroke="#000" stroke-width="0.18" text-anchor="end" >200</text>
<line x1="447.60" y1="437.60" x2="448.60" y2="437.60" stroke="#000" stroke-width="0.5" />
<line x1="447.60" y1="434.88" x2="448.60" y2="434.88" stroke="#000" stroke-width="0.5" />
<line x1="447.60" y1="432.17" x2="448.60" y2="432.17" stroke="#000" stroke-width="0.5" />
<line x1="447.60" y1="429.45" x2="448.60" y2="429.45" stroke="#000" stroke-width="0.5" />
<line x1="447.60" y1="426.74" x2="448.60" y2="426.74" stroke="#000" stroke-width="0.5" />
<line x1="447.60" y1="424.02" x2="448.60" y2="424.02" stroke="#000" stroke-width="0.5" />
<line x1="447.60" y1="421.30" x2="448.60" y2="421.30" stroke="#000" stroke-width="0.5" />
<line x1="447.60" y1="418.59" x2="448.60" y2="418.59" stroke="#000" stroke-width="0.5" />
<line x1="447.60" y1="415.87" x2="448.60" y2="415.87" stroke="#000" stroke-width="0.5" />
<line x1="447.60" y1="413.16" x2="448.60" y2="413.16" stroke="#000" stroke-width="0.5" />
<line x1="447.60" y1="410.44" x2="448.60" y2="410.44" stroke="#000" stroke-width="0.5" />
<line x1="447.60" y1="407.72" x2="448.60" y2="407.72" stroke="#000" stroke-width="0.5" />
<line x1="447.60" y1="405.01" x2="448.60" y2="405.01" stroke="#000" stroke-width="0.5" />
<line x1="447.60" y1="402.29" x2="448.60" y2="402.29" stroke="#000" stroke-width="0.5" />
<line x1="447.60" y1="399.58" x2="448.60" y2="399.58" stroke="#000" stroke-width="0.5" />
<line x1="447.60" y1="396.86" x2="448.60" y2="396.86" stroke="#000" stroke-width="0.5" />
<line x1="447.60" y1="394.14" x2="448.60" y2="394.14" stroke="#000" stroke-width="0.5" />
<line x1="447.60" y1="391.43" x2="448.60" y2="391.43" stroke="#000" stroke-width="0.5" />
<line x1="447.60" y1="388.71" x2="448.60" y2="388.71" stroke="#000" stroke-width="0.5" />
<line x1="447.60" y1="386.00" x2="448.60" y2="386.00" stroke="#000" stroke-width="0.5" />
<line x1="447.60" y1="383.28" x2="448.60" y2="383.28" stroke="#000" stroke-width="0.5" />
<text x="451.90" y="444.90" font-size="5.2" stroke="#000" stroke-width="0.18" text-anchor="middle" >10<tspan font-size="3.2" dy="-2.1">0</tspan></text>
<text x="463.60" y="444.90" font-size="5.2" stroke="#000" stroke-width="0.18" text-anchor="middle" >10<tspan font-size="3.2" dy="-2.1">1</tspan></text>
<text x="481.70" y="444.90" font-size="5.2" stroke="#000" stroke-width="0.18" text-anchor="middle" >10<tspan font-size="3.2" dy="-2.1">2</tspan></text>
<text x="496.40" y="444.90" font-size="5.2" stroke="#000" stroke-width="0.18" text-anchor="middle" >10<tspan font-size="3.2" dy="-2.1">3</tspan></text>
<text x="508.10" y="444.90" font-size="5.2" stroke="#000" stroke-width="0.18" text-anchor="middle" >10<tspan font-size="3.2" dy="-2.1">4</tspan></text>
<path d="M371.7,511.2 C373.6,510.2 374.3,510.6 377.5,508.3 C380.7,506.0 378.9,508.6 381.3,504.4 C383.7,500.2 383.0,501.2 384.6,495.8 C386.2,490.4 385.0,489.9 386.2,488.1 C387.4,486.3 386.7,489.3 388.1,490.4 C389.5,491.5 388.5,488.4 390.4,491.5 C392.3,494.6 391.0,495.0 393.8,499.6 C396.6,504.2 395.8,502.5 398.7,505.4 C401.6,508.3 400.3,507.7 402.5,508.3 C404.7,508.9 403.2,510.2 405.4,507.3 C407.6,504.4 406.6,505.4 409.2,499.6 C411.8,493.8 410.8,495.8 413.1,490.0 C415.4,484.2 414.2,487.1 416.0,482.3 C417.8,477.5 416.9,475.0 418.5,475.6 C420.1,476.2 419.3,474.9 420.8,484.2 C422.3,493.5 421.3,494.6 423.1,503.5 C424.9,512.4 425.2,508.4 426.2,510.8 L426.2,511.6 L371.7,511.6 Z" fill="#f6bfe0" stroke="none"/>
<path d="M371.7,511.2 C373.6,510.2 374.3,510.6 377.5,508.3 C380.7,506.0 378.9,508.6 381.3,504.4 C383.7,500.2 383.0,501.2 384.6,495.8 C386.2,490.4 385.0,489.9 386.2,488.1 C387.4,486.3 386.7,489.3 388.1,490.4 C389.5,491.5 388.5,488.4 390.4,491.5 C392.3,494.6 391.0,495.0 393.8,499.6 C396.6,504.2 395.8,502.5 398.7,505.4 C401.6,508.3 400.3,507.7 402.5,508.3 C404.7,508.9 403.2,510.2 405.4,507.3 C407.6,504.4 406.6,505.4 409.2,499.6 C411.8,493.8 410.8,495.8 413.1,490.0 C415.4,484.2 414.2,487.1 416.0,482.3 C417.8,477.5 416.9,475.0 418.5,475.6 C420.1,476.2 419.3,474.9 420.8,484.2 C422.3,493.5 421.3,494.6 423.1,503.5 C424.9,512.4 425.2,508.4 426.2,510.8" fill="none" stroke="#d8102c" stroke-width="1.3" stroke-linejoin="round"/>
<rect x="370.8" y="450.6" width="62.1" height="61.0" fill="none" stroke="#000" stroke-width="1.3"/>
<line x1="401.20" y1="466.00" x2="432.90" y2="466.00" stroke="#111" stroke-width="1.3" />
<line x1="401.20" y1="464.50" x2="401.20" y2="467.50" stroke="#111" stroke-width="1.0" />
<text x="412.70" y="461.50" font-size="7.2" stroke="#000" stroke-width="0.18" textLength="19.6" lengthAdjust="spacingAndGlyphs" >56.1%</text>
<line x1="369.00" y1="511.20" x2="370.80" y2="511.20" stroke="#000" stroke-width="0.8" />
<text x="368.80" y="513.00" font-size="5.2" stroke="#000" stroke-width="0.18" text-anchor="end" >0</text>
<line x1="369.00" y1="496.37" x2="370.80" y2="496.37" stroke="#000" stroke-width="0.8" />
<text x="368.80" y="498.17" font-size="5.2" stroke="#000" stroke-width="0.18" text-anchor="end" >50</text>
<line x1="369.00" y1="481.54" x2="370.80" y2="481.54" stroke="#000" stroke-width="0.8" />
<text x="368.80" y="483.34" font-size="5.2" stroke="#000" stroke-width="0.18" text-anchor="end" >100</text>
<line x1="369.00" y1="466.71" x2="370.80" y2="466.71" stroke="#000" stroke-width="0.8" />
<text x="368.80" y="468.51" font-size="5.2" stroke="#000" stroke-width="0.18" text-anchor="end" >150</text>
<line x1="369.00" y1="451.88" x2="370.80" y2="451.88" stroke="#000" stroke-width="0.8" />
<text x="368.80" y="453.68" font-size="5.2" stroke="#000" stroke-width="0.18" text-anchor="end" >200</text>
<line x1="369.80" y1="511.20" x2="370.80" y2="511.20" stroke="#000" stroke-width="0.5" />
<line x1="369.80" y1="508.23" x2="370.80" y2="508.23" stroke="#000" stroke-width="0.5" />
<line x1="369.80" y1="505.27" x2="370.80" y2="505.27" stroke="#000" stroke-width="0.5" />
<line x1="369.80" y1="502.30" x2="370.80" y2="502.30" stroke="#000" stroke-width="0.5" />
<line x1="369.80" y1="499.34" x2="370.80" y2="499.34" stroke="#000" stroke-width="0.5" />
<line x1="369.80" y1="496.37" x2="370.80" y2="496.37" stroke="#000" stroke-width="0.5" />
<line x1="369.80" y1="493.40" x2="370.80" y2="493.40" stroke="#000" stroke-width="0.5" />
<line x1="369.80" y1="490.44" x2="370.80" y2="490.44" stroke="#000" stroke-width="0.5" />
<line x1="369.80" y1="487.47" x2="370.80" y2="487.47" stroke="#000" stroke-width="0.5" />
<line x1="369.80" y1="484.51" x2="370.80" y2="484.51" stroke="#000" stroke-width="0.5" />
<line x1="369.80" y1="481.54" x2="370.80" y2="481.54" stroke="#000" stroke-width="0.5" />
<line x1="369.80" y1="478.57" x2="370.80" y2="478.57" stroke="#000" stroke-width="0.5" />
<line x1="369.80" y1="475.61" x2="370.80" y2="475.61" stroke="#000" stroke-width="0.5" />
<line x1="369.80" y1="472.64" x2="370.80" y2="472.64" stroke="#000" stroke-width="0.5" />
<line x1="369.80" y1="469.68" x2="370.80" y2="469.68" stroke="#000" stroke-width="0.5" />
<line x1="369.80" y1="466.71" x2="370.80" y2="466.71" stroke="#000" stroke-width="0.5" />
<line x1="369.80" y1="463.74" x2="370.80" y2="463.74" stroke="#000" stroke-width="0.5" />
<line x1="369.80" y1="460.78" x2="370.80" y2="460.78" stroke="#000" stroke-width="0.5" />
<line x1="369.80" y1="457.81" x2="370.80" y2="457.81" stroke="#000" stroke-width="0.5" />
<line x1="369.80" y1="454.85" x2="370.80" y2="454.85" stroke="#000" stroke-width="0.5" />
<line x1="369.80" y1="451.88" x2="370.80" y2="451.88" stroke="#000" stroke-width="0.5" />
<text x="373.40" y="519.40" font-size="5.2" stroke="#000" stroke-width="0.18" text-anchor="middle" >10<tspan font-size="3.2" dy="-2.1">0</tspan></text>
<text x="385.50" y="519.40" font-size="5.2" stroke="#000" stroke-width="0.18" text-anchor="middle" >10<tspan font-size="3.2" dy="-2.1">1</tspan></text>
<text x="401.90" y="519.40" font-size="5.2" stroke="#000" stroke-width="0.18" text-anchor="middle" >10<tspan font-size="3.2" dy="-2.1">2</tspan></text>
<text x="417.10" y="519.40" font-size="5.2" stroke="#000" stroke-width="0.18" text-anchor="middle" >10<tspan font-size="3.2" dy="-2.1">3</tspan></text>
<text x="430.10" y="519.40" font-size="5.2" stroke="#000" stroke-width="0.18" text-anchor="middle" >10<tspan font-size="3.2" dy="-2.1">4</tspan></text>
<path d="M449.5,512.4 C451.9,510.8 453.0,512.1 456.6,507.5 C460.2,502.9 458.4,504.5 460.2,498.6 C462.0,492.7 460.9,495.6 462.0,489.7 C463.1,483.8 462.8,485.5 463.4,480.8 C464.0,476.1 463.0,477.4 463.7,475.5 C464.4,473.6 464.6,475.0 465.5,475.0 C466.4,475.0 465.7,473.0 466.4,475.5 C467.1,478.0 466.4,476.4 467.6,482.6 C468.8,488.8 468.0,488.2 470.0,494.1 C472.0,500.0 471.2,495.9 473.5,500.4 C475.8,504.9 474.3,504.0 477.0,507.5 C479.7,511.0 478.8,509.8 481.5,511.0 C484.2,512.2 482.3,511.9 485.0,511.0 C487.7,510.1 486.8,511.3 489.5,508.3 C492.2,505.3 491.2,506.5 493.0,502.1 C494.8,497.7 493.3,499.4 494.8,495.0 C496.3,490.6 496.0,491.3 497.5,488.8 C499.0,486.3 498.1,486.7 499.2,487.6 C500.3,488.5 499.5,487.2 500.7,491.5 C501.9,495.8 501.2,494.8 502.8,500.4 C504.4,506.0 503.6,504.5 505.4,508.3 C507.2,512.1 507.2,510.7 508.1,511.9 L508.1,512.5 L449.5,512.5 Z" fill="#c4e6ee" stroke="none"/>
<path d="M449.5,512.4 C451.9,510.8 453.0,512.1 456.6,507.5 C460.2,502.9 458.4,504.5 460.2,498.6 C462.0,492.7 460.9,495.6 462.0,489.7 C463.1,483.8 462.8,485.5 463.4,480.8 C464.0,476.1 463.0,477.4 463.7,475.5 C464.4,473.6 464.6,475.0 465.5,475.0 C466.4,475.0 465.7,473.0 466.4,475.5 C467.1,478.0 466.4,476.4 467.6,482.6 C468.8,488.8 468.0,488.2 470.0,494.1 C472.0,500.0 471.2,495.9 473.5,500.4 C475.8,504.9 474.3,504.0 477.0,507.5 C479.7,511.0 478.8,509.8 481.5,511.0 C484.2,512.2 482.3,511.9 485.0,511.0 C487.7,510.1 486.8,511.3 489.5,508.3 C492.2,505.3 491.2,506.5 493.0,502.1 C494.8,497.7 493.3,499.4 494.8,495.0 C496.3,490.6 496.0,491.3 497.5,488.8 C499.0,486.3 498.1,486.7 499.2,487.6 C500.3,488.5 499.5,487.2 500.7,491.5 C501.9,495.8 501.2,494.8 502.8,500.4 C504.4,506.0 503.6,504.5 505.4,508.3 C507.2,512.1 507.2,510.7 508.1,511.9" fill="none" stroke="#1a40c8" stroke-width="1.3" stroke-linejoin="round"/>
<rect x="448.3" y="451.0" width="62.3" height="61.5" fill="none" stroke="#000" stroke-width="1.3"/>
<line x1="482.40" y1="468.40" x2="510.60" y2="468.40" stroke="#111" stroke-width="1.3" />
<line x1="482.40" y1="466.90" x2="482.40" y2="469.90" stroke="#111" stroke-width="1.0" />
<text x="489.50" y="463.10" font-size="7.2" stroke="#000" stroke-width="0.18" textLength="20.5" lengthAdjust="spacingAndGlyphs" >36.1%</text>
<line x1="446.50" y1="512.40" x2="448.30" y2="512.40" stroke="#000" stroke-width="0.8" />
<text x="446.30" y="514.20" font-size="5.2" stroke="#000" stroke-width="0.18" text-anchor="end" >0</text>
<line x1="446.50" y1="497.40" x2="448.30" y2="497.40" stroke="#000" stroke-width="0.8" />
<text x="446.30" y="499.20" font-size="5.2" stroke="#000" stroke-width="0.18" text-anchor="end" >50</text>
<line x1="446.50" y1="482.40" x2="448.30" y2="482.40" stroke="#000" stroke-width="0.8" />
<text x="446.30" y="484.20" font-size="5.2" stroke="#000" stroke-width="0.18" text-anchor="end" >100</text>
<line x1="446.50" y1="467.40" x2="448.30" y2="467.40" stroke="#000" stroke-width="0.8" />
<text x="446.30" y="469.20" font-size="5.2" stroke="#000" stroke-width="0.18" text-anchor="end" >150</text>
<line x1="446.50" y1="452.40" x2="448.30" y2="452.40" stroke="#000" stroke-width="0.8" />
<text x="446.30" y="454.20" font-size="5.2" stroke="#000" stroke-width="0.18" text-anchor="end" >200</text>
<line x1="447.30" y1="512.40" x2="448.30" y2="512.40" stroke="#000" stroke-width="0.5" />
<line x1="447.30" y1="509.40" x2="448.30" y2="509.40" stroke="#000" stroke-width="0.5" />
<line x1="447.30" y1="506.40" x2="448.30" y2="506.40" stroke="#000" stroke-width="0.5" />
<line x1="447.30" y1="503.40" x2="448.30" y2="503.40" stroke="#000" stroke-width="0.5" />
<line x1="447.30" y1="500.40" x2="448.30" y2="500.40" stroke="#000" stroke-width="0.5" />
<line x1="447.30" y1="497.40" x2="448.30" y2="497.40" stroke="#000" stroke-width="0.5" />
<line x1="447.30" y1="494.40" x2="448.30" y2="494.40" stroke="#000" stroke-width="0.5" />
<line x1="447.30" y1="491.40" x2="448.30" y2="491.40" stroke="#000" stroke-width="0.5" />
<line x1="447.30" y1="488.40" x2="448.30" y2="488.40" stroke="#000" stroke-width="0.5" />
<line x1="447.30" y1="485.40" x2="448.30" y2="485.40" stroke="#000" stroke-width="0.5" />
<line x1="447.30" y1="482.40" x2="448.30" y2="482.40" stroke="#000" stroke-width="0.5" />
<line x1="447.30" y1="479.40" x2="448.30" y2="479.40" stroke="#000" stroke-width="0.5" />
<line x1="447.30" y1="476.40" x2="448.30" y2="476.40" stroke="#000" stroke-width="0.5" />
<line x1="447.30" y1="473.40" x2="448.30" y2="473.40" stroke="#000" stroke-width="0.5" />
<line x1="447.30" y1="470.40" x2="448.30" y2="470.40" stroke="#000" stroke-width="0.5" />
<line x1="447.30" y1="467.40" x2="448.30" y2="467.40" stroke="#000" stroke-width="0.5" />
<line x1="447.30" y1="464.40" x2="448.30" y2="464.40" stroke="#000" stroke-width="0.5" />
<line x1="447.30" y1="461.40" x2="448.30" y2="461.40" stroke="#000" stroke-width="0.5" />
<line x1="447.30" y1="458.40" x2="448.30" y2="458.40" stroke="#000" stroke-width="0.5" />
<line x1="447.30" y1="455.40" x2="448.30" y2="455.40" stroke="#000" stroke-width="0.5" />
<line x1="447.30" y1="452.40" x2="448.30" y2="452.40" stroke="#000" stroke-width="0.5" />
<text x="451.70" y="519.20" font-size="5.2" stroke="#000" stroke-width="0.18" text-anchor="middle" >10<tspan font-size="3.2" dy="-2.1">0</tspan></text>
<text x="463.40" y="519.20" font-size="5.2" stroke="#000" stroke-width="0.18" text-anchor="middle" >10<tspan font-size="3.2" dy="-2.1">1</tspan></text>
<text x="481.10" y="519.20" font-size="5.2" stroke="#000" stroke-width="0.18" text-anchor="middle" >10<tspan font-size="3.2" dy="-2.1">2</tspan></text>
<text x="495.70" y="519.20" font-size="5.2" stroke="#000" stroke-width="0.18" text-anchor="middle" >10<tspan font-size="3.2" dy="-2.1">3</tspan></text>
<text x="508.10" y="519.20" font-size="5.2" stroke="#000" stroke-width="0.18" text-anchor="middle" >10<tspan font-size="3.2" dy="-2.1">4</tspan></text>
<path d="M359.6,501.9 L359.6,524.2 L382.3,524.2" fill="none" stroke="#2050d0" stroke-width="1.2" />
<circle cx="359.60" cy="501.90" r="0.90" fill="#2050d0" />
<circle cx="382.30" cy="524.20" r="0.90" fill="#2050d0" />
<text transform="translate(355.60,513.10) rotate(-90)" font-size="6.4" stroke="#000" stroke-width="0.3" text-anchor="middle" textLength="21.2" lengthAdjust="spacingAndGlyphs" >counts</text>
<text x="361.20" y="531.30" font-size="6.8" stroke="#000" stroke-width="0.3" textLength="14.4" lengthAdjust="spacingAndGlyphs" >ROS</text>
<rect x="0" y="0" width="520" height="563" fill="none" stroke="#000" stroke-width="2.6"/>
</svg></body></html>
